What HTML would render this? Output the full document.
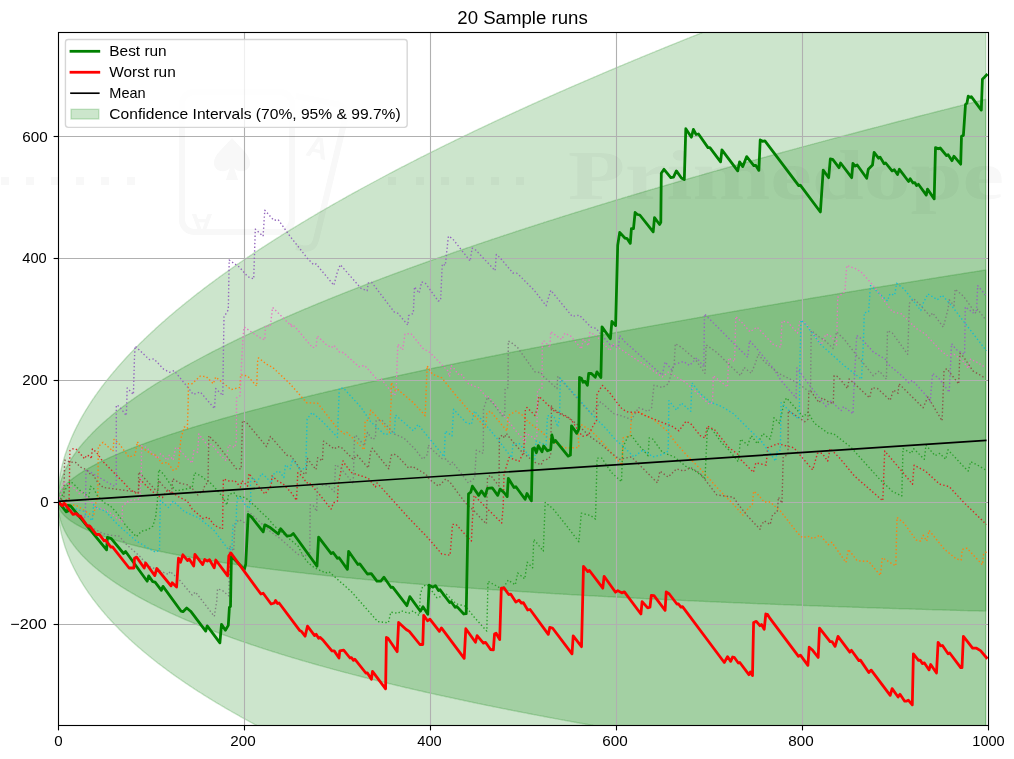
<!DOCTYPE html><html><head><meta charset="utf-8"><title>20 Sample runs</title><style>html,body{margin:0;padding:0;background:#fff}svg{display:block}text{font-family:"Liberation Sans",sans-serif;fill:#000}</style></head><body>
<svg width="1014" height="759" viewBox="0 0 1014 759">
<rect width="1014" height="759" fill="#fff"/>
<defs><clipPath id="ax"><rect x="58.5" y="32.5" width="930.0" height="693.0"/></clipPath></defs>
<g clip-path="url(#ax)">
<path d="M57.6 501.4 L58.5 495.9 L59.5 493.6 L60.4 491.9 L61.3 490.4 L62.2 489.0 L63.2 487.8 L64.1 486.7 L65.0 485.6 L66.0 484.7 L66.9 483.7 L67.8 482.8 L68.8 482.0 L69.7 481.1 L70.6 480.3 L71.5 479.6 L72.5 478.8 L73.4 478.1 L74.3 477.4 L75.3 476.7 L76.2 476.0 L77.1 475.4 L78.1 474.7 L79.0 474.1 L79.9 473.5 L80.8 472.9 L81.8 472.3 L82.7 471.7 L83.6 471.1 L84.6 470.6 L85.5 470.0 L86.4 469.4 L87.4 468.9 L88.3 468.4 L89.2 467.8 L90.2 467.3 L91.1 466.8 L92.0 466.3 L92.9 465.8 L93.9 465.3 L94.8 464.8 L95.7 464.3 L96.7 463.8 L97.6 463.4 L98.5 462.9 L99.5 462.4 L100.4 462.0 L101.3 461.5 L102.2 461.1 L103.2 460.6 L104.1 460.2 L105.0 459.7 L106.0 459.3 L106.9 458.9 L107.8 458.4 L108.8 458.0 L109.7 457.6 L110.6 457.2 L111.5 456.7 L112.5 456.3 L113.4 455.9 L114.3 455.5 L115.3 455.1 L116.2 454.7 L117.1 454.3 L118.1 453.9 L119.0 453.5 L119.9 453.1 L120.8 452.7 L121.8 452.3 L122.7 452.0 L123.6 451.6 L124.6 451.2 L125.5 450.8 L126.4 450.4 L127.3 450.1 L128.3 449.7 L129.2 449.3 L130.1 449.0 L131.1 448.6 L132.0 448.2 L132.9 447.9 L133.9 447.5 L134.8 447.1 L135.7 446.8 L136.7 446.4 L137.6 446.1 L138.5 445.7 L139.4 445.4 L140.4 445.0 L141.3 444.7 L142.2 444.3 L143.2 444.0 L144.1 443.7 L145.0 443.3 L146.0 443.0 L146.9 442.6 L147.8 442.3 L148.7 442.0 L149.7 441.6 L150.6 441.3 L151.5 441.0 L152.5 440.6 L153.4 440.3 L154.3 440.0 L155.2 439.7 L156.2 439.3 L157.1 439.0 L158.0 438.7 L159.0 438.4 L159.9 438.1 L160.8 437.7 L161.8 437.4 L162.7 437.1 L163.6 436.8 L164.6 436.5 L165.5 436.2 L166.4 435.9 L167.3 435.5 L168.3 435.2 L169.2 434.9 L170.1 434.6 L171.1 434.3 L172.0 434.0 L172.9 433.7 L173.8 433.4 L174.8 433.1 L175.7 432.8 L176.6 432.5 L177.6 432.2 L178.5 431.9 L179.4 431.6 L180.4 431.3 L181.3 431.0 L182.2 430.7 L183.2 430.4 L184.1 430.1 L185.0 429.8 L185.9 429.6 L186.9 429.3 L187.8 429.0 L188.7 428.7 L189.7 428.4 L190.6 428.1 L191.5 427.8 L192.4 427.5 L193.4 427.2 L194.3 427.0 L195.2 426.7 L196.2 426.4 L197.1 426.1 L198.0 425.8 L199.0 425.6 L199.9 425.3 L200.8 425.0 L201.8 424.7 L202.7 424.4 L203.6 424.2 L204.5 423.9 L205.5 423.6 L206.4 423.3 L207.3 423.1 L208.3 422.8 L209.2 422.5 L210.1 422.2 L211.1 422.0 L212.0 421.7 L212.9 421.4 L213.8 421.2 L214.8 420.9 L215.7 420.6 L216.6 420.4 L217.6 420.1 L218.5 419.8 L219.4 419.6 L220.3 419.3 L221.3 419.0 L222.2 418.8 L223.1 418.5 L224.1 418.2 L225.0 418.0 L225.9 417.7 L226.9 417.5 L227.8 417.2 L228.7 416.9 L229.7 416.7 L230.6 416.4 L231.5 416.2 L232.4 415.9 L233.4 415.6 L234.3 415.4 L235.2 415.1 L236.2 414.9 L237.1 414.6 L238.0 414.4 L239.0 414.1 L239.9 413.8 L240.8 413.6 L241.7 413.3 L242.7 413.1 L243.6 412.8 L244.5 412.6 L245.5 412.3 L246.4 412.1 L247.3 411.8 L248.2 411.6 L249.2 411.3 L250.1 411.1 L251.0 410.8 L252.0 410.6 L252.9 410.3 L253.8 410.1 L254.8 409.8 L255.7 409.6 L256.6 409.4 L257.6 409.1 L258.5 408.9 L259.4 408.6 L260.3 408.4 L261.3 408.1 L262.2 407.9 L263.1 407.6 L264.1 407.4 L265.0 407.2 L265.9 406.9 L266.9 406.7 L267.8 406.4 L268.7 406.2 L269.6 406.0 L270.6 405.7 L271.5 405.5 L272.4 405.2 L273.4 405.0 L274.3 404.8 L275.2 404.5 L276.2 404.3 L277.1 404.1 L278.0 403.8 L278.9 403.6 L279.9 403.3 L280.8 403.1 L281.7 402.9 L282.7 402.6 L283.6 402.4 L284.5 402.2 L285.5 401.9 L286.4 401.7 L287.3 401.5 L288.2 401.2 L289.2 401.0 L290.1 400.8 L291.0 400.5 L292.0 400.3 L292.9 400.1 L293.8 399.8 L294.8 399.6 L295.7 399.4 L296.6 399.2 L297.5 398.9 L298.5 398.7 L299.4 398.5 L300.3 398.2 L301.3 398.0 L302.2 397.8 L303.1 397.6 L304.1 397.3 L305.0 397.1 L305.9 396.9 L306.8 396.7 L307.8 396.4 L308.7 396.2 L309.6 396.0 L310.6 395.8 L311.5 395.5 L312.4 395.3 L313.4 395.1 L314.3 394.9 L315.2 394.6 L316.1 394.4 L317.1 394.2 L318.0 394.0 L318.9 393.7 L319.9 393.5 L320.8 393.3 L321.7 393.1 L322.7 392.9 L323.6 392.6 L324.5 392.4 L325.4 392.2 L326.4 392.0 L327.3 391.8 L328.2 391.5 L329.2 391.3 L330.1 391.1 L331.0 390.9 L332.0 390.7 L332.9 390.4 L333.8 390.2 L334.7 390.0 L335.7 389.8 L336.6 389.6 L337.5 389.4 L338.5 389.1 L339.4 388.9 L340.3 388.7 L341.3 388.5 L342.2 388.3 L343.1 388.1 L344.0 387.8 L345.0 387.6 L345.9 387.4 L346.8 387.2 L347.8 387.0 L348.7 386.8 L349.6 386.6 L350.6 386.4 L351.5 386.1 L352.4 385.9 L353.3 385.7 L354.3 385.5 L355.2 385.3 L356.1 385.1 L357.1 384.9 L358.0 384.7 L358.9 384.4 L359.9 384.2 L360.8 384.0 L361.7 383.8 L362.6 383.6 L363.6 383.4 L364.5 383.2 L365.4 383.0 L366.4 382.8 L367.3 382.6 L368.2 382.3 L369.2 382.1 L370.1 381.9 L371.0 381.7 L371.9 381.5 L372.9 381.3 L373.8 381.1 L374.7 380.9 L375.7 380.7 L376.6 380.5 L377.5 380.3 L378.5 380.1 L379.4 379.9 L380.3 379.6 L381.2 379.4 L382.2 379.2 L383.1 379.0 L384.0 378.8 L385.0 378.6 L385.9 378.4 L386.8 378.2 L387.8 378.0 L388.7 377.8 L389.6 377.6 L390.5 377.4 L391.5 377.2 L392.4 377.0 L393.3 376.8 L394.3 376.6 L395.2 376.4 L396.1 376.2 L397.1 376.0 L398.0 375.8 L398.9 375.6 L399.8 375.4 L400.8 375.2 L401.7 375.0 L402.6 374.8 L403.6 374.6 L404.5 374.4 L405.4 374.2 L406.4 374.0 L407.3 373.8 L408.2 373.6 L409.1 373.4 L410.1 373.2 L411.0 373.0 L411.9 372.8 L412.9 372.6 L413.8 372.4 L414.7 372.2 L415.7 372.0 L416.6 371.8 L417.5 371.6 L418.4 371.4 L419.4 371.2 L420.3 371.0 L421.2 370.8 L422.2 370.6 L423.1 370.4 L424.0 370.2 L425.0 370.0 L425.9 369.8 L426.8 369.6 L427.7 369.4 L428.7 369.2 L429.6 369.0 L430.5 368.8 L431.5 368.6 L432.4 368.4 L433.3 368.2 L434.3 368.0 L435.2 367.8 L436.1 367.6 L437.0 367.4 L438.0 367.2 L438.9 367.1 L439.8 366.9 L440.8 366.7 L441.7 366.5 L442.6 366.3 L443.6 366.1 L444.5 365.9 L445.4 365.7 L446.3 365.5 L447.3 365.3 L448.2 365.1 L449.1 364.9 L450.1 364.7 L451.0 364.5 L451.9 364.4 L452.9 364.2 L453.8 364.0 L454.7 363.8 L455.6 363.6 L456.6 363.4 L457.5 363.2 L458.4 363.0 L459.4 362.8 L460.3 362.6 L461.2 362.4 L462.2 362.2 L463.1 362.1 L464.0 361.9 L464.9 361.7 L465.9 361.5 L466.8 361.3 L467.7 361.1 L468.7 360.9 L469.6 360.7 L470.5 360.5 L471.5 360.3 L472.4 360.2 L473.3 360.0 L474.2 359.8 L475.2 359.6 L476.1 359.4 L477.0 359.2 L478.0 359.0 L478.9 358.8 L479.8 358.7 L480.8 358.5 L481.7 358.3 L482.6 358.1 L483.5 357.9 L484.5 357.7 L485.4 357.5 L486.3 357.3 L487.3 357.2 L488.2 357.0 L489.1 356.8 L490.1 356.6 L491.0 356.4 L491.9 356.2 L492.8 356.0 L493.8 355.9 L494.7 355.7 L495.6 355.5 L496.6 355.3 L497.5 355.1 L498.4 354.9 L499.4 354.7 L500.3 354.6 L501.2 354.4 L502.1 354.2 L503.1 354.0 L504.0 353.8 L504.9 353.6 L505.9 353.5 L506.8 353.3 L507.7 353.1 L508.7 352.9 L509.6 352.7 L510.5 352.5 L511.4 352.4 L512.4 352.2 L513.3 352.0 L514.2 351.8 L515.2 351.6 L516.1 351.4 L517.0 351.3 L518.0 351.1 L518.9 350.9 L519.8 350.7 L520.7 350.5 L521.7 350.3 L522.6 350.2 L523.5 350.0 L524.5 349.8 L525.4 349.6 L526.3 349.4 L527.2 349.3 L528.2 349.1 L529.1 348.9 L530.0 348.7 L531.0 348.5 L531.9 348.3 L532.8 348.2 L533.8 348.0 L534.7 347.8 L535.6 347.6 L536.6 347.4 L537.5 347.3 L538.4 347.1 L539.3 346.9 L540.3 346.7 L541.2 346.5 L542.1 346.4 L543.1 346.2 L544.0 346.0 L544.9 345.8 L545.9 345.7 L546.8 345.5 L547.7 345.3 L548.6 345.1 L549.6 344.9 L550.5 344.8 L551.4 344.6 L552.4 344.4 L553.3 344.2 L554.2 344.0 L555.1 343.9 L556.1 343.7 L557.0 343.5 L557.9 343.3 L558.9 343.2 L559.8 343.0 L560.7 342.8 L561.7 342.6 L562.6 342.5 L563.5 342.3 L564.5 342.1 L565.4 341.9 L566.3 341.7 L567.2 341.6 L568.2 341.4 L569.1 341.2 L570.0 341.0 L571.0 340.9 L571.9 340.7 L572.8 340.5 L573.8 340.3 L574.7 340.2 L575.6 340.0 L576.5 339.8 L577.5 339.6 L578.4 339.5 L579.3 339.3 L580.3 339.1 L581.2 338.9 L582.1 338.8 L583.1 338.6 L584.0 338.4 L584.9 338.2 L585.8 338.1 L586.8 337.9 L587.7 337.7 L588.6 337.5 L589.6 337.4 L590.5 337.2 L591.4 337.0 L592.4 336.8 L593.3 336.7 L594.2 336.5 L595.1 336.3 L596.1 336.2 L597.0 336.0 L597.9 335.8 L598.9 335.6 L599.8 335.5 L600.7 335.3 L601.7 335.1 L602.6 334.9 L603.5 334.8 L604.4 334.6 L605.4 334.4 L606.3 334.3 L607.2 334.1 L608.2 333.9 L609.1 333.7 L610.0 333.6 L611.0 333.4 L611.9 333.2 L612.8 333.1 L613.7 332.9 L614.7 332.7 L615.6 332.5 L616.5 332.4 L617.5 332.2 L618.4 332.0 L619.3 331.9 L620.2 331.7 L621.2 331.5 L622.1 331.3 L623.0 331.2 L624.0 331.0 L624.9 330.8 L625.8 330.7 L626.8 330.5 L627.7 330.3 L628.6 330.1 L629.6 330.0 L630.5 329.8 L631.4 329.6 L632.3 329.5 L633.3 329.3 L634.2 329.1 L635.1 329.0 L636.1 328.8 L637.0 328.6 L637.9 328.5 L638.9 328.3 L639.8 328.1 L640.7 327.9 L641.6 327.8 L642.6 327.6 L643.5 327.4 L644.4 327.3 L645.4 327.1 L646.3 326.9 L647.2 326.8 L648.2 326.6 L649.1 326.4 L650.0 326.3 L650.9 326.1 L651.9 325.9 L652.8 325.8 L653.7 325.6 L654.7 325.4 L655.6 325.3 L656.5 325.1 L657.5 324.9 L658.4 324.8 L659.3 324.6 L660.2 324.4 L661.2 324.3 L662.1 324.1 L663.0 323.9 L664.0 323.8 L664.9 323.6 L665.8 323.4 L666.8 323.3 L667.7 323.1 L668.6 322.9 L669.5 322.8 L670.5 322.6 L671.4 322.4 L672.3 322.3 L673.3 322.1 L674.2 321.9 L675.1 321.8 L676.1 321.6 L677.0 321.4 L677.9 321.3 L678.8 321.1 L679.8 320.9 L680.7 320.8 L681.6 320.6 L682.6 320.4 L683.5 320.3 L684.4 320.1 L685.4 319.9 L686.3 319.8 L687.2 319.6 L688.1 319.4 L689.1 319.3 L690.0 319.1 L690.9 319.0 L691.9 318.8 L692.8 318.6 L693.7 318.5 L694.7 318.3 L695.6 318.1 L696.5 318.0 L697.4 317.8 L698.4 317.6 L699.3 317.5 L700.2 317.3 L701.2 317.1 L702.1 317.0 L703.0 316.8 L704.0 316.7 L704.9 316.5 L705.8 316.3 L706.7 316.2 L707.7 316.0 L708.6 315.8 L709.5 315.7 L710.5 315.5 L711.4 315.4 L712.3 315.2 L713.3 315.0 L714.2 314.9 L715.1 314.7 L716.0 314.5 L717.0 314.4 L717.9 314.2 L718.8 314.1 L719.8 313.9 L720.7 313.7 L721.6 313.6 L722.6 313.4 L723.5 313.2 L724.4 313.1 L725.3 312.9 L726.3 312.8 L727.2 312.6 L728.1 312.4 L729.1 312.3 L730.0 312.1 L730.9 311.9 L731.9 311.8 L732.8 311.6 L733.7 311.5 L734.6 311.3 L735.6 311.1 L736.5 311.0 L737.4 310.8 L738.4 310.7 L739.3 310.5 L740.2 310.3 L741.2 310.2 L742.1 310.0 L743.0 309.9 L743.9 309.7 L744.9 309.5 L745.8 309.4 L746.7 309.2 L747.7 309.1 L748.6 308.9 L749.5 308.7 L750.5 308.6 L751.4 308.4 L752.3 308.3 L753.2 308.1 L754.2 307.9 L755.1 307.8 L756.0 307.6 L757.0 307.5 L757.9 307.3 L758.8 307.1 L759.8 307.0 L760.7 306.8 L761.6 306.7 L762.5 306.5 L763.5 306.3 L764.4 306.2 L765.3 306.0 L766.3 305.9 L767.2 305.7 L768.1 305.5 L769.1 305.4 L770.0 305.2 L770.9 305.1 L771.8 304.9 L772.8 304.8 L773.7 304.6 L774.6 304.4 L775.6 304.3 L776.5 304.1 L777.4 304.0 L778.4 303.8 L779.3 303.6 L780.2 303.5 L781.1 303.3 L782.1 303.2 L783.0 303.0 L783.9 302.9 L784.9 302.7 L785.8 302.5 L786.7 302.4 L787.7 302.2 L788.6 302.1 L789.5 301.9 L790.4 301.8 L791.4 301.6 L792.3 301.4 L793.2 301.3 L794.2 301.1 L795.1 301.0 L796.0 300.8 L797.0 300.7 L797.9 300.5 L798.8 300.3 L799.7 300.2 L800.7 300.0 L801.6 299.9 L802.5 299.7 L803.5 299.6 L804.4 299.4 L805.3 299.3 L806.3 299.1 L807.2 298.9 L808.1 298.8 L809.0 298.6 L810.0 298.5 L810.9 298.3 L811.8 298.2 L812.8 298.0 L813.7 297.8 L814.6 297.7 L815.6 297.5 L816.5 297.4 L817.4 297.2 L818.3 297.1 L819.3 296.9 L820.2 296.8 L821.1 296.6 L822.1 296.4 L823.0 296.3 L823.9 296.1 L824.9 296.0 L825.8 295.8 L826.7 295.7 L827.6 295.5 L828.6 295.4 L829.5 295.2 L830.4 295.1 L831.4 294.9 L832.3 294.7 L833.2 294.6 L834.2 294.4 L835.1 294.3 L836.0 294.1 L836.9 294.0 L837.9 293.8 L838.8 293.7 L839.7 293.5 L840.7 293.4 L841.6 293.2 L842.5 293.0 L843.5 292.9 L844.4 292.7 L845.3 292.6 L846.2 292.4 L847.2 292.3 L848.1 292.1 L849.0 292.0 L850.0 291.8 L850.9 291.7 L851.8 291.5 L852.8 291.4 L853.7 291.2 L854.6 291.1 L855.5 290.9 L856.5 290.7 L857.4 290.6 L858.3 290.4 L859.3 290.3 L860.2 290.1 L861.1 290.0 L862.1 289.8 L863.0 289.7 L863.9 289.5 L864.8 289.4 L865.8 289.2 L866.7 289.1 L867.6 288.9 L868.6 288.8 L869.5 288.6 L870.4 288.5 L871.4 288.3 L872.3 288.2 L873.2 288.0 L874.1 287.8 L875.1 287.7 L876.0 287.5 L876.9 287.4 L877.9 287.2 L878.8 287.1 L879.7 286.9 L880.7 286.8 L881.6 286.6 L882.5 286.5 L883.4 286.3 L884.4 286.2 L885.3 286.0 L886.2 285.9 L887.2 285.7 L888.1 285.6 L889.0 285.4 L890.0 285.3 L890.9 285.1 L891.8 285.0 L892.7 284.8 L893.7 284.7 L894.6 284.5 L895.5 284.4 L896.5 284.2 L897.4 284.1 L898.3 283.9 L899.3 283.8 L900.2 283.6 L901.1 283.5 L902.0 283.3 L903.0 283.2 L903.9 283.0 L904.8 282.9 L905.8 282.7 L906.7 282.6 L907.6 282.4 L908.6 282.3 L909.5 282.1 L910.4 282.0 L911.3 281.8 L912.3 281.7 L913.2 281.5 L914.1 281.4 L915.1 281.2 L916.0 281.1 L916.9 280.9 L917.9 280.8 L918.8 280.6 L919.7 280.5 L920.6 280.3 L921.6 280.2 L922.5 280.0 L923.4 279.9 L924.4 279.7 L925.3 279.6 L926.2 279.4 L927.2 279.3 L928.1 279.1 L929.0 279.0 L929.9 278.8 L930.9 278.7 L931.8 278.5 L932.7 278.4 L933.7 278.2 L934.6 278.1 L935.5 277.9 L936.5 277.8 L937.4 277.6 L938.3 277.5 L939.2 277.3 L940.2 277.2 L941.1 277.0 L942.0 276.9 L943.0 276.7 L943.9 276.6 L944.8 276.4 L945.8 276.3 L946.7 276.1 L947.6 276.0 L948.5 275.8 L949.5 275.7 L950.4 275.5 L951.3 275.4 L952.3 275.2 L953.2 275.1 L954.1 274.9 L955.1 274.8 L956.0 274.7 L956.9 274.5 L957.8 274.4 L958.8 274.2 L959.7 274.1 L960.6 273.9 L961.6 273.8 L962.5 273.6 L963.4 273.5 L964.4 273.3 L965.3 273.2 L966.2 273.0 L967.1 272.9 L968.1 272.7 L969.0 272.6 L969.9 272.4 L970.9 272.3 L971.8 272.1 L972.7 272.0 L973.7 271.9 L974.6 271.7 L975.5 271.6 L976.4 271.4 L977.4 271.3 L978.3 271.1 L979.2 271.0 L980.2 270.8 L981.1 270.7 L982.0 270.5 L983.0 270.4 L983.9 270.2 L984.8 270.1 L985.7 269.9 L985.7 611.1 L984.8 611.1 L983.9 611.1 L983.0 611.1 L982.0 611.0 L981.1 611.0 L980.2 611.0 L979.2 611.0 L978.3 610.9 L977.4 610.9 L976.4 610.9 L975.5 610.9 L974.6 610.8 L973.7 610.8 L972.7 610.8 L971.8 610.8 L970.9 610.7 L969.9 610.7 L969.0 610.7 L968.1 610.7 L967.1 610.6 L966.2 610.6 L965.3 610.6 L964.4 610.6 L963.4 610.5 L962.5 610.5 L961.6 610.5 L960.6 610.5 L959.7 610.4 L958.8 610.4 L957.8 610.4 L956.9 610.4 L956.0 610.3 L955.1 610.3 L954.1 610.3 L953.2 610.2 L952.3 610.2 L951.3 610.2 L950.4 610.2 L949.5 610.1 L948.5 610.1 L947.6 610.1 L946.7 610.1 L945.8 610.0 L944.8 610.0 L943.9 610.0 L943.0 610.0 L942.0 609.9 L941.1 609.9 L940.2 609.9 L939.2 609.9 L938.3 609.8 L937.4 609.8 L936.5 609.8 L935.5 609.7 L934.6 609.7 L933.7 609.7 L932.7 609.7 L931.8 609.6 L930.9 609.6 L929.9 609.6 L929.0 609.6 L928.1 609.5 L927.2 609.5 L926.2 609.5 L925.3 609.4 L924.4 609.4 L923.4 609.4 L922.5 609.4 L921.6 609.3 L920.6 609.3 L919.7 609.3 L918.8 609.3 L917.9 609.2 L916.9 609.2 L916.0 609.2 L915.1 609.1 L914.1 609.1 L913.2 609.1 L912.3 609.1 L911.3 609.0 L910.4 609.0 L909.5 609.0 L908.6 608.9 L907.6 608.9 L906.7 608.9 L905.8 608.9 L904.8 608.8 L903.9 608.8 L903.0 608.8 L902.0 608.7 L901.1 608.7 L900.2 608.7 L899.3 608.7 L898.3 608.6 L897.4 608.6 L896.5 608.6 L895.5 608.5 L894.6 608.5 L893.7 608.5 L892.7 608.5 L891.8 608.4 L890.9 608.4 L890.0 608.4 L889.0 608.3 L888.1 608.3 L887.2 608.3 L886.2 608.3 L885.3 608.2 L884.4 608.2 L883.4 608.2 L882.5 608.1 L881.6 608.1 L880.7 608.1 L879.7 608.0 L878.8 608.0 L877.9 608.0 L876.9 608.0 L876.0 607.9 L875.1 607.9 L874.1 607.9 L873.2 607.8 L872.3 607.8 L871.4 607.8 L870.4 607.7 L869.5 607.7 L868.6 607.7 L867.6 607.7 L866.7 607.6 L865.8 607.6 L864.8 607.6 L863.9 607.5 L863.0 607.5 L862.1 607.5 L861.1 607.4 L860.2 607.4 L859.3 607.4 L858.3 607.3 L857.4 607.3 L856.5 607.3 L855.5 607.3 L854.6 607.2 L853.7 607.2 L852.8 607.2 L851.8 607.1 L850.9 607.1 L850.0 607.1 L849.0 607.0 L848.1 607.0 L847.2 607.0 L846.2 606.9 L845.3 606.9 L844.4 606.9 L843.5 606.8 L842.5 606.8 L841.6 606.8 L840.7 606.7 L839.7 606.7 L838.8 606.7 L837.9 606.6 L836.9 606.6 L836.0 606.6 L835.1 606.6 L834.2 606.5 L833.2 606.5 L832.3 606.5 L831.4 606.4 L830.4 606.4 L829.5 606.4 L828.6 606.3 L827.6 606.3 L826.7 606.3 L825.8 606.2 L824.9 606.2 L823.9 606.2 L823.0 606.1 L822.1 606.1 L821.1 606.1 L820.2 606.0 L819.3 606.0 L818.3 606.0 L817.4 605.9 L816.5 605.9 L815.6 605.9 L814.6 605.8 L813.7 605.8 L812.8 605.8 L811.8 605.7 L810.9 605.7 L810.0 605.7 L809.0 605.6 L808.1 605.6 L807.2 605.6 L806.3 605.5 L805.3 605.5 L804.4 605.5 L803.5 605.4 L802.5 605.4 L801.6 605.3 L800.7 605.3 L799.7 605.3 L798.8 605.2 L797.9 605.2 L797.0 605.2 L796.0 605.1 L795.1 605.1 L794.2 605.1 L793.2 605.0 L792.3 605.0 L791.4 605.0 L790.4 604.9 L789.5 604.9 L788.6 604.9 L787.7 604.8 L786.7 604.8 L785.8 604.8 L784.9 604.7 L783.9 604.7 L783.0 604.6 L782.1 604.6 L781.1 604.6 L780.2 604.5 L779.3 604.5 L778.4 604.5 L777.4 604.4 L776.5 604.4 L775.6 604.4 L774.6 604.3 L773.7 604.3 L772.8 604.3 L771.8 604.2 L770.9 604.2 L770.0 604.1 L769.1 604.1 L768.1 604.1 L767.2 604.0 L766.3 604.0 L765.3 604.0 L764.4 603.9 L763.5 603.9 L762.5 603.8 L761.6 603.8 L760.7 603.8 L759.8 603.7 L758.8 603.7 L757.9 603.7 L757.0 603.6 L756.0 603.6 L755.1 603.5 L754.2 603.5 L753.2 603.5 L752.3 603.4 L751.4 603.4 L750.5 603.4 L749.5 603.3 L748.6 603.3 L747.7 603.2 L746.7 603.2 L745.8 603.2 L744.9 603.1 L743.9 603.1 L743.0 603.1 L742.1 603.0 L741.2 603.0 L740.2 602.9 L739.3 602.9 L738.4 602.9 L737.4 602.8 L736.5 602.8 L735.6 602.7 L734.6 602.7 L733.7 602.7 L732.8 602.6 L731.9 602.6 L730.9 602.5 L730.0 602.5 L729.1 602.5 L728.1 602.4 L727.2 602.4 L726.3 602.4 L725.3 602.3 L724.4 602.3 L723.5 602.2 L722.6 602.2 L721.6 602.2 L720.7 602.1 L719.8 602.1 L718.8 602.0 L717.9 602.0 L717.0 602.0 L716.0 601.9 L715.1 601.9 L714.2 601.8 L713.3 601.8 L712.3 601.7 L711.4 601.7 L710.5 601.7 L709.5 601.6 L708.6 601.6 L707.7 601.5 L706.7 601.5 L705.8 601.5 L704.9 601.4 L704.0 601.4 L703.0 601.3 L702.1 601.3 L701.2 601.3 L700.2 601.2 L699.3 601.2 L698.4 601.1 L697.4 601.1 L696.5 601.0 L695.6 601.0 L694.7 601.0 L693.7 600.9 L692.8 600.9 L691.9 600.8 L690.9 600.8 L690.0 600.7 L689.1 600.7 L688.1 600.7 L687.2 600.6 L686.3 600.6 L685.4 600.5 L684.4 600.5 L683.5 600.4 L682.6 600.4 L681.6 600.4 L680.7 600.3 L679.8 600.3 L678.8 600.2 L677.9 600.2 L677.0 600.1 L676.1 600.1 L675.1 600.1 L674.2 600.0 L673.3 600.0 L672.3 599.9 L671.4 599.9 L670.5 599.8 L669.5 599.8 L668.6 599.7 L667.7 599.7 L666.8 599.7 L665.8 599.6 L664.9 599.6 L664.0 599.5 L663.0 599.5 L662.1 599.4 L661.2 599.4 L660.2 599.3 L659.3 599.3 L658.4 599.3 L657.5 599.2 L656.5 599.2 L655.6 599.1 L654.7 599.1 L653.7 599.0 L652.8 599.0 L651.9 598.9 L650.9 598.9 L650.0 598.8 L649.1 598.8 L648.2 598.8 L647.2 598.7 L646.3 598.7 L645.4 598.6 L644.4 598.6 L643.5 598.5 L642.6 598.5 L641.6 598.4 L640.7 598.4 L639.8 598.3 L638.9 598.3 L637.9 598.2 L637.0 598.2 L636.1 598.1 L635.1 598.1 L634.2 598.1 L633.3 598.0 L632.3 598.0 L631.4 597.9 L630.5 597.9 L629.6 597.8 L628.6 597.8 L627.7 597.7 L626.8 597.7 L625.8 597.6 L624.9 597.6 L624.0 597.5 L623.0 597.5 L622.1 597.4 L621.2 597.4 L620.2 597.3 L619.3 597.3 L618.4 597.2 L617.5 597.2 L616.5 597.1 L615.6 597.1 L614.7 597.0 L613.7 597.0 L612.8 596.9 L611.9 596.9 L611.0 596.8 L610.0 596.8 L609.1 596.7 L608.2 596.7 L607.2 596.6 L606.3 596.6 L605.4 596.5 L604.4 596.5 L603.5 596.4 L602.6 596.4 L601.7 596.3 L600.7 596.3 L599.8 596.2 L598.9 596.2 L597.9 596.1 L597.0 596.1 L596.1 596.0 L595.1 596.0 L594.2 595.9 L593.3 595.9 L592.4 595.8 L591.4 595.8 L590.5 595.7 L589.6 595.7 L588.6 595.6 L587.7 595.6 L586.8 595.5 L585.8 595.5 L584.9 595.4 L584.0 595.4 L583.1 595.3 L582.1 595.3 L581.2 595.2 L580.3 595.1 L579.3 595.1 L578.4 595.0 L577.5 595.0 L576.5 594.9 L575.6 594.9 L574.7 594.8 L573.8 594.8 L572.8 594.7 L571.9 594.7 L571.0 594.6 L570.0 594.6 L569.1 594.5 L568.2 594.4 L567.2 594.4 L566.3 594.3 L565.4 594.3 L564.5 594.2 L563.5 594.2 L562.6 594.1 L561.7 594.1 L560.7 594.0 L559.8 594.0 L558.9 593.9 L557.9 593.8 L557.0 593.8 L556.1 593.7 L555.1 593.7 L554.2 593.6 L553.3 593.6 L552.4 593.5 L551.4 593.5 L550.5 593.4 L549.6 593.3 L548.6 593.3 L547.7 593.2 L546.8 593.2 L545.9 593.1 L544.9 593.1 L544.0 593.0 L543.1 592.9 L542.1 592.9 L541.2 592.8 L540.3 592.8 L539.3 592.7 L538.4 592.7 L537.5 592.6 L536.6 592.5 L535.6 592.5 L534.7 592.4 L533.8 592.4 L532.8 592.3 L531.9 592.2 L531.0 592.2 L530.0 592.1 L529.1 592.1 L528.2 592.0 L527.2 592.0 L526.3 591.9 L525.4 591.8 L524.5 591.8 L523.5 591.7 L522.6 591.7 L521.7 591.6 L520.7 591.5 L519.8 591.5 L518.9 591.4 L518.0 591.4 L517.0 591.3 L516.1 591.2 L515.2 591.2 L514.2 591.1 L513.3 591.1 L512.4 591.0 L511.4 590.9 L510.5 590.9 L509.6 590.8 L508.7 590.7 L507.7 590.7 L506.8 590.6 L505.9 590.6 L504.9 590.5 L504.0 590.4 L503.1 590.4 L502.1 590.3 L501.2 590.3 L500.3 590.2 L499.4 590.1 L498.4 590.1 L497.5 590.0 L496.6 589.9 L495.6 589.9 L494.7 589.8 L493.8 589.7 L492.8 589.7 L491.9 589.6 L491.0 589.6 L490.1 589.5 L489.1 589.4 L488.2 589.4 L487.3 589.3 L486.3 589.2 L485.4 589.2 L484.5 589.1 L483.5 589.0 L482.6 589.0 L481.7 588.9 L480.8 588.8 L479.8 588.8 L478.9 588.7 L478.0 588.6 L477.0 588.6 L476.1 588.5 L475.2 588.4 L474.2 588.4 L473.3 588.3 L472.4 588.2 L471.5 588.2 L470.5 588.1 L469.6 588.0 L468.7 588.0 L467.7 587.9 L466.8 587.8 L465.9 587.8 L464.9 587.7 L464.0 587.6 L463.1 587.6 L462.2 587.5 L461.2 587.4 L460.3 587.4 L459.4 587.3 L458.4 587.2 L457.5 587.2 L456.6 587.1 L455.6 587.0 L454.7 586.9 L453.8 586.9 L452.9 586.8 L451.9 586.7 L451.0 586.7 L450.1 586.6 L449.1 586.5 L448.2 586.5 L447.3 586.4 L446.3 586.3 L445.4 586.2 L444.5 586.2 L443.6 586.1 L442.6 586.0 L441.7 586.0 L440.8 585.9 L439.8 585.8 L438.9 585.7 L438.0 585.7 L437.0 585.6 L436.1 585.5 L435.2 585.5 L434.3 585.4 L433.3 585.3 L432.4 585.2 L431.5 585.2 L430.5 585.1 L429.6 585.0 L428.7 584.9 L427.7 584.9 L426.8 584.8 L425.9 584.7 L425.0 584.6 L424.0 584.6 L423.1 584.5 L422.2 584.4 L421.2 584.3 L420.3 584.3 L419.4 584.2 L418.4 584.1 L417.5 584.0 L416.6 584.0 L415.7 583.9 L414.7 583.8 L413.8 583.7 L412.9 583.6 L411.9 583.6 L411.0 583.5 L410.1 583.4 L409.1 583.3 L408.2 583.3 L407.3 583.2 L406.4 583.1 L405.4 583.0 L404.5 582.9 L403.6 582.9 L402.6 582.8 L401.7 582.7 L400.8 582.6 L399.8 582.6 L398.9 582.5 L398.0 582.4 L397.1 582.3 L396.1 582.2 L395.2 582.1 L394.3 582.1 L393.3 582.0 L392.4 581.9 L391.5 581.8 L390.5 581.7 L389.6 581.7 L388.7 581.6 L387.8 581.5 L386.8 581.4 L385.9 581.3 L385.0 581.2 L384.0 581.2 L383.1 581.1 L382.2 581.0 L381.2 580.9 L380.3 580.8 L379.4 580.7 L378.5 580.7 L377.5 580.6 L376.6 580.5 L375.7 580.4 L374.7 580.3 L373.8 580.2 L372.9 580.2 L371.9 580.1 L371.0 580.0 L370.1 579.9 L369.2 579.8 L368.2 579.7 L367.3 579.6 L366.4 579.5 L365.4 579.5 L364.5 579.4 L363.6 579.3 L362.6 579.2 L361.7 579.1 L360.8 579.0 L359.9 578.9 L358.9 578.8 L358.0 578.8 L357.1 578.7 L356.1 578.6 L355.2 578.5 L354.3 578.4 L353.3 578.3 L352.4 578.2 L351.5 578.1 L350.6 578.0 L349.6 577.9 L348.7 577.9 L347.8 577.8 L346.8 577.7 L345.9 577.6 L345.0 577.5 L344.0 577.4 L343.1 577.3 L342.2 577.2 L341.3 577.1 L340.3 577.0 L339.4 576.9 L338.5 576.8 L337.5 576.7 L336.6 576.6 L335.7 576.5 L334.7 576.4 L333.8 576.4 L332.9 576.3 L332.0 576.2 L331.0 576.1 L330.1 576.0 L329.2 575.9 L328.2 575.8 L327.3 575.7 L326.4 575.6 L325.4 575.5 L324.5 575.4 L323.6 575.3 L322.7 575.2 L321.7 575.1 L320.8 575.0 L319.9 574.9 L318.9 574.8 L318.0 574.7 L317.1 574.6 L316.1 574.5 L315.2 574.4 L314.3 574.3 L313.4 574.2 L312.4 574.1 L311.5 574.0 L310.6 573.9 L309.6 573.8 L308.7 573.7 L307.8 573.6 L306.8 573.5 L305.9 573.4 L305.0 573.3 L304.1 573.1 L303.1 573.0 L302.2 572.9 L301.3 572.8 L300.3 572.7 L299.4 572.6 L298.5 572.5 L297.5 572.4 L296.6 572.3 L295.7 572.2 L294.8 572.1 L293.8 572.0 L292.9 571.9 L292.0 571.8 L291.0 571.6 L290.1 571.5 L289.2 571.4 L288.2 571.3 L287.3 571.2 L286.4 571.1 L285.5 571.0 L284.5 570.9 L283.6 570.8 L282.7 570.6 L281.7 570.5 L280.8 570.4 L279.9 570.3 L278.9 570.2 L278.0 570.1 L277.1 570.0 L276.2 569.9 L275.2 569.7 L274.3 569.6 L273.4 569.5 L272.4 569.4 L271.5 569.3 L270.6 569.2 L269.6 569.0 L268.7 568.9 L267.8 568.8 L266.9 568.7 L265.9 568.6 L265.0 568.4 L264.1 568.3 L263.1 568.2 L262.2 568.1 L261.3 568.0 L260.3 567.8 L259.4 567.7 L258.5 567.6 L257.6 567.5 L256.6 567.3 L255.7 567.2 L254.8 567.1 L253.8 567.0 L252.9 566.8 L252.0 566.7 L251.0 566.6 L250.1 566.5 L249.2 566.3 L248.2 566.2 L247.3 566.1 L246.4 566.0 L245.5 565.8 L244.5 565.7 L243.6 565.6 L242.7 565.4 L241.7 565.3 L240.8 565.2 L239.9 565.1 L239.0 564.9 L238.0 564.8 L237.1 564.7 L236.2 564.5 L235.2 564.4 L234.3 564.3 L233.4 564.1 L232.4 564.0 L231.5 563.8 L230.6 563.7 L229.7 563.6 L228.7 563.4 L227.8 563.3 L226.9 563.2 L225.9 563.0 L225.0 562.9 L224.1 562.7 L223.1 562.6 L222.2 562.5 L221.3 562.3 L220.3 562.2 L219.4 562.0 L218.5 561.9 L217.6 561.7 L216.6 561.6 L215.7 561.4 L214.8 561.3 L213.8 561.1 L212.9 561.0 L212.0 560.9 L211.1 560.7 L210.1 560.6 L209.2 560.4 L208.3 560.3 L207.3 560.1 L206.4 560.0 L205.5 559.8 L204.5 559.6 L203.6 559.5 L202.7 559.3 L201.8 559.2 L200.8 559.0 L199.9 558.9 L199.0 558.7 L198.0 558.6 L197.1 558.4 L196.2 558.2 L195.2 558.1 L194.3 557.9 L193.4 557.7 L192.4 557.6 L191.5 557.4 L190.6 557.3 L189.7 557.1 L188.7 556.9 L187.8 556.8 L186.9 556.6 L185.9 556.4 L185.0 556.3 L184.1 556.1 L183.2 555.9 L182.2 555.7 L181.3 555.6 L180.4 555.4 L179.4 555.2 L178.5 555.0 L177.6 554.9 L176.6 554.7 L175.7 554.5 L174.8 554.3 L173.8 554.2 L172.9 554.0 L172.0 553.8 L171.1 553.6 L170.1 553.4 L169.2 553.2 L168.3 553.1 L167.3 552.9 L166.4 552.7 L165.5 552.5 L164.6 552.3 L163.6 552.1 L162.7 551.9 L161.8 551.7 L160.8 551.5 L159.9 551.3 L159.0 551.1 L158.0 550.9 L157.1 550.7 L156.2 550.5 L155.2 550.3 L154.3 550.1 L153.4 549.9 L152.5 549.7 L151.5 549.5 L150.6 549.3 L149.7 549.1 L148.7 548.9 L147.8 548.7 L146.9 548.5 L146.0 548.2 L145.0 548.0 L144.1 547.8 L143.2 547.6 L142.2 547.4 L141.3 547.1 L140.4 546.9 L139.4 546.7 L138.5 546.5 L137.6 546.2 L136.7 546.0 L135.7 545.8 L134.8 545.5 L133.9 545.3 L132.9 545.1 L132.0 544.8 L131.1 544.6 L130.1 544.3 L129.2 544.1 L128.3 543.8 L127.3 543.6 L126.4 543.3 L125.5 543.1 L124.6 542.8 L123.6 542.6 L122.7 542.3 L121.8 542.1 L120.8 541.8 L119.9 541.5 L119.0 541.2 L118.1 541.0 L117.1 540.7 L116.2 540.4 L115.3 540.1 L114.3 539.9 L113.4 539.6 L112.5 539.3 L111.5 539.0 L110.6 538.7 L109.7 538.4 L108.8 538.1 L107.8 537.8 L106.9 537.5 L106.0 537.2 L105.0 536.9 L104.1 536.5 L103.2 536.2 L102.2 535.9 L101.3 535.6 L100.4 535.2 L99.5 534.9 L98.5 534.5 L97.6 534.2 L96.7 533.8 L95.7 533.5 L94.8 533.1 L93.9 532.7 L92.9 532.4 L92.0 532.0 L91.1 531.6 L90.2 531.2 L89.2 530.8 L88.3 530.4 L87.4 530.0 L86.4 529.6 L85.5 529.2 L84.6 528.7 L83.6 528.3 L82.7 527.8 L81.8 527.4 L80.8 526.9 L79.9 526.4 L79.0 525.9 L78.1 525.4 L77.1 524.9 L76.2 524.3 L75.3 523.8 L74.3 523.2 L73.4 522.6 L72.5 522.0 L71.5 521.4 L70.6 520.8 L69.7 520.1 L68.8 519.4 L67.8 518.6 L66.9 517.9 L66.0 517.1 L65.0 516.2 L64.1 515.3 L63.2 514.3 L62.2 513.2 L61.3 512.0 L60.4 510.6 L59.5 508.9 L58.5 506.7 L57.6 501.4Z" fill="#007e00" fill-opacity="0.2" stroke="#007e00" stroke-opacity="0.2" stroke-width="1.39" stroke-linejoin="round"/>
<path d="M57.6 501.4 L58.5 490.5 L59.5 486.0 L60.4 482.5 L61.3 479.6 L62.2 476.9 L63.2 474.6 L64.1 472.4 L65.0 470.4 L66.0 468.5 L66.9 466.6 L67.8 464.9 L68.8 463.3 L69.7 461.7 L70.6 460.1 L71.5 458.7 L72.5 457.2 L73.4 455.8 L74.3 454.5 L75.3 453.2 L76.2 451.9 L77.1 450.6 L78.1 449.4 L79.0 448.2 L79.9 447.0 L80.8 445.9 L81.8 444.7 L82.7 443.6 L83.6 442.5 L84.6 441.5 L85.5 440.4 L86.4 439.4 L87.4 438.4 L88.3 437.3 L89.2 436.4 L90.2 435.4 L91.1 434.4 L92.0 433.5 L92.9 432.5 L93.9 431.6 L94.8 430.7 L95.7 429.7 L96.7 428.8 L97.6 428.0 L98.5 427.1 L99.5 426.2 L100.4 425.3 L101.3 424.5 L102.2 423.7 L103.2 422.8 L104.1 422.0 L105.0 421.2 L106.0 420.4 L106.9 419.5 L107.8 418.7 L108.8 418.0 L109.7 417.2 L110.6 416.4 L111.5 415.6 L112.5 414.8 L113.4 414.1 L114.3 413.3 L115.3 412.6 L116.2 411.8 L117.1 411.1 L118.1 410.4 L119.0 409.6 L119.9 408.9 L120.8 408.2 L121.8 407.5 L122.7 406.8 L123.6 406.1 L124.6 405.4 L125.5 404.7 L126.4 404.0 L127.3 403.3 L128.3 402.6 L129.2 401.9 L130.1 401.3 L131.1 400.6 L132.0 399.9 L132.9 399.3 L133.9 398.6 L134.8 397.9 L135.7 397.3 L136.7 396.6 L137.6 396.0 L138.5 395.4 L139.4 394.7 L140.4 394.1 L141.3 393.5 L142.2 392.8 L143.2 392.2 L144.1 391.6 L145.0 391.0 L146.0 390.3 L146.9 389.7 L147.8 389.1 L148.7 388.5 L149.7 387.9 L150.6 387.3 L151.5 386.7 L152.5 386.1 L153.4 385.5 L154.3 384.9 L155.2 384.3 L156.2 383.7 L157.1 383.2 L158.0 382.6 L159.0 382.0 L159.9 381.4 L160.8 380.8 L161.8 380.3 L162.7 379.7 L163.6 379.1 L164.6 378.6 L165.5 378.0 L166.4 377.4 L167.3 376.9 L168.3 376.3 L169.2 375.8 L170.1 375.2 L171.1 374.7 L172.0 374.1 L172.9 373.6 L173.8 373.0 L174.8 372.5 L175.7 371.9 L176.6 371.4 L177.6 370.9 L178.5 370.3 L179.4 369.8 L180.4 369.3 L181.3 368.7 L182.2 368.2 L183.2 367.7 L184.1 367.2 L185.0 366.6 L185.9 366.1 L186.9 365.6 L187.8 365.1 L188.7 364.6 L189.7 364.0 L190.6 363.5 L191.5 363.0 L192.4 362.5 L193.4 362.0 L194.3 361.5 L195.2 361.0 L196.2 360.5 L197.1 360.0 L198.0 359.5 L199.0 359.0 L199.9 358.5 L200.8 358.0 L201.8 357.5 L202.7 357.0 L203.6 356.5 L204.5 356.0 L205.5 355.5 L206.4 355.0 L207.3 354.5 L208.3 354.1 L209.2 353.6 L210.1 353.1 L211.1 352.6 L212.0 352.1 L212.9 351.6 L213.8 351.2 L214.8 350.7 L215.7 350.2 L216.6 349.7 L217.6 349.3 L218.5 348.8 L219.4 348.3 L220.3 347.9 L221.3 347.4 L222.2 346.9 L223.1 346.5 L224.1 346.0 L225.0 345.5 L225.9 345.1 L226.9 344.6 L227.8 344.1 L228.7 343.7 L229.7 343.2 L230.6 342.8 L231.5 342.3 L232.4 341.9 L233.4 341.4 L234.3 340.9 L235.2 340.5 L236.2 340.0 L237.1 339.6 L238.0 339.1 L239.0 338.7 L239.9 338.2 L240.8 337.8 L241.7 337.4 L242.7 336.9 L243.6 336.5 L244.5 336.0 L245.5 335.6 L246.4 335.1 L247.3 334.7 L248.2 334.3 L249.2 333.8 L250.1 333.4 L251.0 333.0 L252.0 332.5 L252.9 332.1 L253.8 331.7 L254.8 331.2 L255.7 330.8 L256.6 330.4 L257.6 329.9 L258.5 329.5 L259.4 329.1 L260.3 328.6 L261.3 328.2 L262.2 327.8 L263.1 327.4 L264.1 326.9 L265.0 326.5 L265.9 326.1 L266.9 325.7 L267.8 325.3 L268.7 324.8 L269.6 324.4 L270.6 324.0 L271.5 323.6 L272.4 323.2 L273.4 322.8 L274.3 322.3 L275.2 321.9 L276.2 321.5 L277.1 321.1 L278.0 320.7 L278.9 320.3 L279.9 319.9 L280.8 319.5 L281.7 319.0 L282.7 318.6 L283.6 318.2 L284.5 317.8 L285.5 317.4 L286.4 317.0 L287.3 316.6 L288.2 316.2 L289.2 315.8 L290.1 315.4 L291.0 315.0 L292.0 314.6 L292.9 314.2 L293.8 313.8 L294.8 313.4 L295.7 313.0 L296.6 312.6 L297.5 312.2 L298.5 311.8 L299.4 311.4 L300.3 311.0 L301.3 310.6 L302.2 310.2 L303.1 309.8 L304.1 309.4 L305.0 309.0 L305.9 308.6 L306.8 308.3 L307.8 307.9 L308.7 307.5 L309.6 307.1 L310.6 306.7 L311.5 306.3 L312.4 305.9 L313.4 305.5 L314.3 305.1 L315.2 304.8 L316.1 304.4 L317.1 304.0 L318.0 303.6 L318.9 303.2 L319.9 302.8 L320.8 302.5 L321.7 302.1 L322.7 301.7 L323.6 301.3 L324.5 300.9 L325.4 300.6 L326.4 300.2 L327.3 299.8 L328.2 299.4 L329.2 299.0 L330.1 298.7 L331.0 298.3 L332.0 297.9 L332.9 297.5 L333.8 297.2 L334.7 296.8 L335.7 296.4 L336.6 296.0 L337.5 295.7 L338.5 295.3 L339.4 294.9 L340.3 294.6 L341.3 294.2 L342.2 293.8 L343.1 293.4 L344.0 293.1 L345.0 292.7 L345.9 292.3 L346.8 292.0 L347.8 291.6 L348.7 291.2 L349.6 290.9 L350.6 290.5 L351.5 290.1 L352.4 289.8 L353.3 289.4 L354.3 289.1 L355.2 288.7 L356.1 288.3 L357.1 288.0 L358.0 287.6 L358.9 287.2 L359.9 286.9 L360.8 286.5 L361.7 286.2 L362.6 285.8 L363.6 285.4 L364.5 285.1 L365.4 284.7 L366.4 284.4 L367.3 284.0 L368.2 283.7 L369.2 283.3 L370.1 282.9 L371.0 282.6 L371.9 282.2 L372.9 281.9 L373.8 281.5 L374.7 281.2 L375.7 280.8 L376.6 280.5 L377.5 280.1 L378.5 279.8 L379.4 279.4 L380.3 279.1 L381.2 278.7 L382.2 278.4 L383.1 278.0 L384.0 277.7 L385.0 277.3 L385.9 277.0 L386.8 276.6 L387.8 276.3 L388.7 275.9 L389.6 275.6 L390.5 275.2 L391.5 274.9 L392.4 274.5 L393.3 274.2 L394.3 273.8 L395.2 273.5 L396.1 273.2 L397.1 272.8 L398.0 272.5 L398.9 272.1 L399.8 271.8 L400.8 271.4 L401.7 271.1 L402.6 270.8 L403.6 270.4 L404.5 270.1 L405.4 269.7 L406.4 269.4 L407.3 269.0 L408.2 268.7 L409.1 268.4 L410.1 268.0 L411.0 267.7 L411.9 267.4 L412.9 267.0 L413.8 266.7 L414.7 266.3 L415.7 266.0 L416.6 265.7 L417.5 265.3 L418.4 265.0 L419.4 264.7 L420.3 264.3 L421.2 264.0 L422.2 263.7 L423.1 263.3 L424.0 263.0 L425.0 262.7 L425.9 262.3 L426.8 262.0 L427.7 261.7 L428.7 261.3 L429.6 261.0 L430.5 260.7 L431.5 260.3 L432.4 260.0 L433.3 259.7 L434.3 259.4 L435.2 259.0 L436.1 258.7 L437.0 258.4 L438.0 258.0 L438.9 257.7 L439.8 257.4 L440.8 257.1 L441.7 256.7 L442.6 256.4 L443.6 256.1 L444.5 255.8 L445.4 255.4 L446.3 255.1 L447.3 254.8 L448.2 254.5 L449.1 254.1 L450.1 253.8 L451.0 253.5 L451.9 253.2 L452.9 252.8 L453.8 252.5 L454.7 252.2 L455.6 251.9 L456.6 251.5 L457.5 251.2 L458.4 250.9 L459.4 250.6 L460.3 250.3 L461.2 249.9 L462.2 249.6 L463.1 249.3 L464.0 249.0 L464.9 248.7 L465.9 248.3 L466.8 248.0 L467.7 247.7 L468.7 247.4 L469.6 247.1 L470.5 246.8 L471.5 246.4 L472.4 246.1 L473.3 245.8 L474.2 245.5 L475.2 245.2 L476.1 244.9 L477.0 244.5 L478.0 244.2 L478.9 243.9 L479.8 243.6 L480.8 243.3 L481.7 243.0 L482.6 242.7 L483.5 242.3 L484.5 242.0 L485.4 241.7 L486.3 241.4 L487.3 241.1 L488.2 240.8 L489.1 240.5 L490.1 240.2 L491.0 239.8 L491.9 239.5 L492.8 239.2 L493.8 238.9 L494.7 238.6 L495.6 238.3 L496.6 238.0 L497.5 237.7 L498.4 237.4 L499.4 237.1 L500.3 236.7 L501.2 236.4 L502.1 236.1 L503.1 235.8 L504.0 235.5 L504.9 235.2 L505.9 234.9 L506.8 234.6 L507.7 234.3 L508.7 234.0 L509.6 233.7 L510.5 233.4 L511.4 233.1 L512.4 232.8 L513.3 232.4 L514.2 232.1 L515.2 231.8 L516.1 231.5 L517.0 231.2 L518.0 230.9 L518.9 230.6 L519.8 230.3 L520.7 230.0 L521.7 229.7 L522.6 229.4 L523.5 229.1 L524.5 228.8 L525.4 228.5 L526.3 228.2 L527.2 227.9 L528.2 227.6 L529.1 227.3 L530.0 227.0 L531.0 226.7 L531.9 226.4 L532.8 226.1 L533.8 225.8 L534.7 225.5 L535.6 225.2 L536.6 224.9 L537.5 224.6 L538.4 224.3 L539.3 224.0 L540.3 223.7 L541.2 223.4 L542.1 223.1 L543.1 222.8 L544.0 222.5 L544.9 222.2 L545.9 221.9 L546.8 221.6 L547.7 221.3 L548.6 221.0 L549.6 220.7 L550.5 220.4 L551.4 220.1 L552.4 219.9 L553.3 219.6 L554.2 219.3 L555.1 219.0 L556.1 218.7 L557.0 218.4 L557.9 218.1 L558.9 217.8 L559.8 217.5 L560.7 217.2 L561.7 216.9 L562.6 216.6 L563.5 216.3 L564.5 216.0 L565.4 215.7 L566.3 215.4 L567.2 215.2 L568.2 214.9 L569.1 214.6 L570.0 214.3 L571.0 214.0 L571.9 213.7 L572.8 213.4 L573.8 213.1 L574.7 212.8 L575.6 212.5 L576.5 212.3 L577.5 212.0 L578.4 211.7 L579.3 211.4 L580.3 211.1 L581.2 210.8 L582.1 210.5 L583.1 210.2 L584.0 209.9 L584.9 209.7 L585.8 209.4 L586.8 209.1 L587.7 208.8 L588.6 208.5 L589.6 208.2 L590.5 207.9 L591.4 207.6 L592.4 207.4 L593.3 207.1 L594.2 206.8 L595.1 206.5 L596.1 206.2 L597.0 205.9 L597.9 205.6 L598.9 205.4 L599.8 205.1 L600.7 204.8 L601.7 204.5 L602.6 204.2 L603.5 203.9 L604.4 203.7 L605.4 203.4 L606.3 203.1 L607.2 202.8 L608.2 202.5 L609.1 202.2 L610.0 202.0 L611.0 201.7 L611.9 201.4 L612.8 201.1 L613.7 200.8 L614.7 200.5 L615.6 200.3 L616.5 200.0 L617.5 199.7 L618.4 199.4 L619.3 199.1 L620.2 198.9 L621.2 198.6 L622.1 198.3 L623.0 198.0 L624.0 197.7 L624.9 197.5 L625.8 197.2 L626.8 196.9 L627.7 196.6 L628.6 196.3 L629.6 196.1 L630.5 195.8 L631.4 195.5 L632.3 195.2 L633.3 194.9 L634.2 194.7 L635.1 194.4 L636.1 194.1 L637.0 193.8 L637.9 193.6 L638.9 193.3 L639.8 193.0 L640.7 192.7 L641.6 192.5 L642.6 192.2 L643.5 191.9 L644.4 191.6 L645.4 191.3 L646.3 191.1 L647.2 190.8 L648.2 190.5 L649.1 190.2 L650.0 190.0 L650.9 189.7 L651.9 189.4 L652.8 189.1 L653.7 188.9 L654.7 188.6 L655.6 188.3 L656.5 188.1 L657.5 187.8 L658.4 187.5 L659.3 187.2 L660.2 187.0 L661.2 186.7 L662.1 186.4 L663.0 186.1 L664.0 185.9 L664.9 185.6 L665.8 185.3 L666.8 185.0 L667.7 184.8 L668.6 184.5 L669.5 184.2 L670.5 184.0 L671.4 183.7 L672.3 183.4 L673.3 183.1 L674.2 182.9 L675.1 182.6 L676.1 182.3 L677.0 182.1 L677.9 181.8 L678.8 181.5 L679.8 181.3 L680.7 181.0 L681.6 180.7 L682.6 180.4 L683.5 180.2 L684.4 179.9 L685.4 179.6 L686.3 179.4 L687.2 179.1 L688.1 178.8 L689.1 178.6 L690.0 178.3 L690.9 178.0 L691.9 177.8 L692.8 177.5 L693.7 177.2 L694.7 177.0 L695.6 176.7 L696.5 176.4 L697.4 176.2 L698.4 175.9 L699.3 175.6 L700.2 175.4 L701.2 175.1 L702.1 174.8 L703.0 174.6 L704.0 174.3 L704.9 174.0 L705.8 173.8 L706.7 173.5 L707.7 173.2 L708.6 173.0 L709.5 172.7 L710.5 172.4 L711.4 172.2 L712.3 171.9 L713.3 171.6 L714.2 171.4 L715.1 171.1 L716.0 170.9 L717.0 170.6 L717.9 170.3 L718.8 170.1 L719.8 169.8 L720.7 169.5 L721.6 169.3 L722.6 169.0 L723.5 168.7 L724.4 168.5 L725.3 168.2 L726.3 168.0 L727.2 167.7 L728.1 167.4 L729.1 167.2 L730.0 166.9 L730.9 166.6 L731.9 166.4 L732.8 166.1 L733.7 165.9 L734.6 165.6 L735.6 165.3 L736.5 165.1 L737.4 164.8 L738.4 164.6 L739.3 164.3 L740.2 164.0 L741.2 163.8 L742.1 163.5 L743.0 163.3 L743.9 163.0 L744.9 162.7 L745.8 162.5 L746.7 162.2 L747.7 162.0 L748.6 161.7 L749.5 161.4 L750.5 161.2 L751.4 160.9 L752.3 160.7 L753.2 160.4 L754.2 160.1 L755.1 159.9 L756.0 159.6 L757.0 159.4 L757.9 159.1 L758.8 158.9 L759.8 158.6 L760.7 158.3 L761.6 158.1 L762.5 157.8 L763.5 157.6 L764.4 157.3 L765.3 157.1 L766.3 156.8 L767.2 156.5 L768.1 156.3 L769.1 156.0 L770.0 155.8 L770.9 155.5 L771.8 155.3 L772.8 155.0 L773.7 154.8 L774.6 154.5 L775.6 154.2 L776.5 154.0 L777.4 153.7 L778.4 153.5 L779.3 153.2 L780.2 153.0 L781.1 152.7 L782.1 152.5 L783.0 152.2 L783.9 151.9 L784.9 151.7 L785.8 151.4 L786.7 151.2 L787.7 150.9 L788.6 150.7 L789.5 150.4 L790.4 150.2 L791.4 149.9 L792.3 149.7 L793.2 149.4 L794.2 149.2 L795.1 148.9 L796.0 148.7 L797.0 148.4 L797.9 148.1 L798.8 147.9 L799.7 147.6 L800.7 147.4 L801.6 147.1 L802.5 146.9 L803.5 146.6 L804.4 146.4 L805.3 146.1 L806.3 145.9 L807.2 145.6 L808.1 145.4 L809.0 145.1 L810.0 144.9 L810.9 144.6 L811.8 144.4 L812.8 144.1 L813.7 143.9 L814.6 143.6 L815.6 143.4 L816.5 143.1 L817.4 142.9 L818.3 142.6 L819.3 142.4 L820.2 142.1 L821.1 141.9 L822.1 141.6 L823.0 141.4 L823.9 141.1 L824.9 140.9 L825.8 140.6 L826.7 140.4 L827.6 140.1 L828.6 139.9 L829.5 139.6 L830.4 139.4 L831.4 139.1 L832.3 138.9 L833.2 138.6 L834.2 138.4 L835.1 138.1 L836.0 137.9 L836.9 137.7 L837.9 137.4 L838.8 137.2 L839.7 136.9 L840.7 136.7 L841.6 136.4 L842.5 136.2 L843.5 135.9 L844.4 135.7 L845.3 135.4 L846.2 135.2 L847.2 134.9 L848.1 134.7 L849.0 134.4 L850.0 134.2 L850.9 134.0 L851.8 133.7 L852.8 133.5 L853.7 133.2 L854.6 133.0 L855.5 132.7 L856.5 132.5 L857.4 132.2 L858.3 132.0 L859.3 131.7 L860.2 131.5 L861.1 131.3 L862.1 131.0 L863.0 130.8 L863.9 130.5 L864.8 130.3 L865.8 130.0 L866.7 129.8 L867.6 129.5 L868.6 129.3 L869.5 129.1 L870.4 128.8 L871.4 128.6 L872.3 128.3 L873.2 128.1 L874.1 127.8 L875.1 127.6 L876.0 127.4 L876.9 127.1 L877.9 126.9 L878.8 126.6 L879.7 126.4 L880.7 126.1 L881.6 125.9 L882.5 125.7 L883.4 125.4 L884.4 125.2 L885.3 124.9 L886.2 124.7 L887.2 124.4 L888.1 124.2 L889.0 124.0 L890.0 123.7 L890.9 123.5 L891.8 123.2 L892.7 123.0 L893.7 122.8 L894.6 122.5 L895.5 122.3 L896.5 122.0 L897.4 121.8 L898.3 121.5 L899.3 121.3 L900.2 121.1 L901.1 120.8 L902.0 120.6 L903.0 120.3 L903.9 120.1 L904.8 119.9 L905.8 119.6 L906.7 119.4 L907.6 119.1 L908.6 118.9 L909.5 118.7 L910.4 118.4 L911.3 118.2 L912.3 118.0 L913.2 117.7 L914.1 117.5 L915.1 117.2 L916.0 117.0 L916.9 116.8 L917.9 116.5 L918.8 116.3 L919.7 116.0 L920.6 115.8 L921.6 115.6 L922.5 115.3 L923.4 115.1 L924.4 114.8 L925.3 114.6 L926.2 114.4 L927.2 114.1 L928.1 113.9 L929.0 113.7 L929.9 113.4 L930.9 113.2 L931.8 112.9 L932.7 112.7 L933.7 112.5 L934.6 112.2 L935.5 112.0 L936.5 111.8 L937.4 111.5 L938.3 111.3 L939.2 111.1 L940.2 110.8 L941.1 110.6 L942.0 110.3 L943.0 110.1 L943.9 109.9 L944.8 109.6 L945.8 109.4 L946.7 109.2 L947.6 108.9 L948.5 108.7 L949.5 108.5 L950.4 108.2 L951.3 108.0 L952.3 107.8 L953.2 107.5 L954.1 107.3 L955.1 107.1 L956.0 106.8 L956.9 106.6 L957.8 106.3 L958.8 106.1 L959.7 105.9 L960.6 105.6 L961.6 105.4 L962.5 105.2 L963.4 104.9 L964.4 104.7 L965.3 104.5 L966.2 104.2 L967.1 104.0 L968.1 103.8 L969.0 103.5 L969.9 103.3 L970.9 103.1 L971.8 102.8 L972.7 102.6 L973.7 102.4 L974.6 102.1 L975.5 101.9 L976.4 101.7 L977.4 101.4 L978.3 101.2 L979.2 101.0 L980.2 100.7 L981.1 100.5 L982.0 100.3 L983.0 100.0 L983.9 99.8 L984.8 99.6 L985.7 99.3 L985.7 781.7 L984.8 781.6 L983.9 781.5 L983.0 781.4 L982.0 781.3 L981.1 781.2 L980.2 781.1 L979.2 781.0 L978.3 780.8 L977.4 780.7 L976.4 780.6 L975.5 780.5 L974.6 780.4 L973.7 780.3 L972.7 780.2 L971.8 780.1 L970.9 780.0 L969.9 779.8 L969.0 779.7 L968.1 779.6 L967.1 779.5 L966.2 779.4 L965.3 779.3 L964.4 779.2 L963.4 779.1 L962.5 778.9 L961.6 778.8 L960.6 778.7 L959.7 778.6 L958.8 778.5 L957.8 778.4 L956.9 778.3 L956.0 778.2 L955.1 778.0 L954.1 777.9 L953.2 777.8 L952.3 777.7 L951.3 777.6 L950.4 777.5 L949.5 777.4 L948.5 777.3 L947.6 777.1 L946.7 777.0 L945.8 776.9 L944.8 776.8 L943.9 776.7 L943.0 776.6 L942.0 776.5 L941.1 776.3 L940.2 776.2 L939.2 776.1 L938.3 776.0 L937.4 775.9 L936.5 775.8 L935.5 775.7 L934.6 775.5 L933.7 775.4 L932.7 775.3 L931.8 775.2 L930.9 775.1 L929.9 775.0 L929.0 774.9 L928.1 774.7 L927.2 774.6 L926.2 774.5 L925.3 774.4 L924.4 774.3 L923.4 774.2 L922.5 774.0 L921.6 773.9 L920.6 773.8 L919.7 773.7 L918.8 773.6 L917.9 773.5 L916.9 773.3 L916.0 773.2 L915.1 773.1 L914.1 773.0 L913.2 772.9 L912.3 772.8 L911.3 772.6 L910.4 772.5 L909.5 772.4 L908.6 772.3 L907.6 772.2 L906.7 772.1 L905.8 771.9 L904.8 771.8 L903.9 771.7 L903.0 771.6 L902.0 771.5 L901.1 771.3 L900.2 771.2 L899.3 771.1 L898.3 771.0 L897.4 770.9 L896.5 770.8 L895.5 770.6 L894.6 770.5 L893.7 770.4 L892.7 770.3 L891.8 770.2 L890.9 770.0 L890.0 769.9 L889.0 769.8 L888.1 769.7 L887.2 769.6 L886.2 769.4 L885.3 769.3 L884.4 769.2 L883.4 769.1 L882.5 769.0 L881.6 768.8 L880.7 768.7 L879.7 768.6 L878.8 768.5 L877.9 768.4 L876.9 768.2 L876.0 768.1 L875.1 768.0 L874.1 767.9 L873.2 767.8 L872.3 767.6 L871.4 767.5 L870.4 767.4 L869.5 767.3 L868.6 767.1 L867.6 767.0 L866.7 766.9 L865.8 766.8 L864.8 766.7 L863.9 766.5 L863.0 766.4 L862.1 766.3 L861.1 766.2 L860.2 766.0 L859.3 765.9 L858.3 765.8 L857.4 765.7 L856.5 765.6 L855.5 765.4 L854.6 765.3 L853.7 765.2 L852.8 765.1 L851.8 764.9 L850.9 764.8 L850.0 764.7 L849.0 764.6 L848.1 764.4 L847.2 764.3 L846.2 764.2 L845.3 764.1 L844.4 763.9 L843.5 763.8 L842.5 763.7 L841.6 763.6 L840.7 763.4 L839.7 763.3 L838.8 763.2 L837.9 763.1 L836.9 762.9 L836.0 762.8 L835.1 762.7 L834.2 762.6 L833.2 762.4 L832.3 762.3 L831.4 762.2 L830.4 762.1 L829.5 761.9 L828.6 761.8 L827.6 761.7 L826.7 761.6 L825.8 761.4 L824.9 761.3 L823.9 761.2 L823.0 761.0 L822.1 760.9 L821.1 760.8 L820.2 760.7 L819.3 760.5 L818.3 760.4 L817.4 760.3 L816.5 760.2 L815.6 760.0 L814.6 759.9 L813.7 759.8 L812.8 759.6 L811.8 759.5 L810.9 759.4 L810.0 759.3 L809.0 759.1 L808.1 759.0 L807.2 758.9 L806.3 758.7 L805.3 758.6 L804.4 758.5 L803.5 758.3 L802.5 758.2 L801.6 758.1 L800.7 758.0 L799.7 757.8 L798.8 757.7 L797.9 757.6 L797.0 757.4 L796.0 757.3 L795.1 757.2 L794.2 757.0 L793.2 756.9 L792.3 756.8 L791.4 756.6 L790.4 756.5 L789.5 756.4 L788.6 756.3 L787.7 756.1 L786.7 756.0 L785.8 755.9 L784.9 755.7 L783.9 755.6 L783.0 755.5 L782.1 755.3 L781.1 755.2 L780.2 755.1 L779.3 754.9 L778.4 754.8 L777.4 754.7 L776.5 754.5 L775.6 754.4 L774.6 754.3 L773.7 754.1 L772.8 754.0 L771.8 753.9 L770.9 753.7 L770.0 753.6 L769.1 753.5 L768.1 753.3 L767.2 753.2 L766.3 753.1 L765.3 752.9 L764.4 752.8 L763.5 752.7 L762.5 752.5 L761.6 752.4 L760.7 752.3 L759.8 752.1 L758.8 752.0 L757.9 751.8 L757.0 751.7 L756.0 751.6 L755.1 751.4 L754.2 751.3 L753.2 751.2 L752.3 751.0 L751.4 750.9 L750.5 750.8 L749.5 750.6 L748.6 750.5 L747.7 750.3 L746.7 750.2 L745.8 750.1 L744.9 749.9 L743.9 749.8 L743.0 749.7 L742.1 749.5 L741.2 749.4 L740.2 749.2 L739.3 749.1 L738.4 749.0 L737.4 748.8 L736.5 748.7 L735.6 748.5 L734.6 748.4 L733.7 748.3 L732.8 748.1 L731.9 748.0 L730.9 747.8 L730.0 747.7 L729.1 747.6 L728.1 747.4 L727.2 747.3 L726.3 747.1 L725.3 747.0 L724.4 746.9 L723.5 746.7 L722.6 746.6 L721.6 746.4 L720.7 746.3 L719.8 746.2 L718.8 746.0 L717.9 745.9 L717.0 745.7 L716.0 745.6 L715.1 745.5 L714.2 745.3 L713.3 745.2 L712.3 745.0 L711.4 744.9 L710.5 744.7 L709.5 744.6 L708.6 744.5 L707.7 744.3 L706.7 744.2 L705.8 744.0 L704.9 743.9 L704.0 743.7 L703.0 743.6 L702.1 743.5 L701.2 743.3 L700.2 743.2 L699.3 743.0 L698.4 742.9 L697.4 742.7 L696.5 742.6 L695.6 742.4 L694.7 742.3 L693.7 742.1 L692.8 742.0 L691.9 741.9 L690.9 741.7 L690.0 741.6 L689.1 741.4 L688.1 741.3 L687.2 741.1 L686.3 741.0 L685.4 740.8 L684.4 740.7 L683.5 740.5 L682.6 740.4 L681.6 740.2 L680.7 740.1 L679.8 739.9 L678.8 739.8 L677.9 739.7 L677.0 739.5 L676.1 739.4 L675.1 739.2 L674.2 739.1 L673.3 738.9 L672.3 738.8 L671.4 738.6 L670.5 738.5 L669.5 738.3 L668.6 738.2 L667.7 738.0 L666.8 737.9 L665.8 737.7 L664.9 737.6 L664.0 737.4 L663.0 737.3 L662.1 737.1 L661.2 737.0 L660.2 736.8 L659.3 736.7 L658.4 736.5 L657.5 736.4 L656.5 736.2 L655.6 736.1 L654.7 735.9 L653.7 735.7 L652.8 735.6 L651.9 735.4 L650.9 735.3 L650.0 735.1 L649.1 735.0 L648.2 734.8 L647.2 734.7 L646.3 734.5 L645.4 734.4 L644.4 734.2 L643.5 734.1 L642.6 733.9 L641.6 733.8 L640.7 733.6 L639.8 733.4 L638.9 733.3 L637.9 733.1 L637.0 733.0 L636.1 732.8 L635.1 732.7 L634.2 732.5 L633.3 732.4 L632.3 732.2 L631.4 732.0 L630.5 731.9 L629.6 731.7 L628.6 731.6 L627.7 731.4 L626.8 731.3 L625.8 731.1 L624.9 730.9 L624.0 730.8 L623.0 730.6 L622.1 730.5 L621.2 730.3 L620.2 730.2 L619.3 730.0 L618.4 729.8 L617.5 729.7 L616.5 729.5 L615.6 729.4 L614.7 729.2 L613.7 729.0 L612.8 728.9 L611.9 728.7 L611.0 728.6 L610.0 728.4 L609.1 728.2 L608.2 728.1 L607.2 727.9 L606.3 727.8 L605.4 727.6 L604.4 727.4 L603.5 727.3 L602.6 727.1 L601.7 726.9 L600.7 726.8 L599.8 726.6 L598.9 726.5 L597.9 726.3 L597.0 726.1 L596.1 726.0 L595.1 725.8 L594.2 725.6 L593.3 725.5 L592.4 725.3 L591.4 725.1 L590.5 725.0 L589.6 724.8 L588.6 724.7 L587.7 724.5 L586.8 724.3 L585.8 724.2 L584.9 724.0 L584.0 723.8 L583.1 723.7 L582.1 723.5 L581.2 723.3 L580.3 723.2 L579.3 723.0 L578.4 722.8 L577.5 722.7 L576.5 722.5 L575.6 722.3 L574.7 722.2 L573.8 722.0 L572.8 721.8 L571.9 721.7 L571.0 721.5 L570.0 721.3 L569.1 721.1 L568.2 721.0 L567.2 720.8 L566.3 720.6 L565.4 720.5 L564.5 720.3 L563.5 720.1 L562.6 720.0 L561.7 719.8 L560.7 719.6 L559.8 719.4 L558.9 719.3 L557.9 719.1 L557.0 718.9 L556.1 718.8 L555.1 718.6 L554.2 718.4 L553.3 718.2 L552.4 718.1 L551.4 717.9 L550.5 717.7 L549.6 717.5 L548.6 717.4 L547.7 717.2 L546.8 717.0 L545.9 716.8 L544.9 716.7 L544.0 716.5 L543.1 716.3 L542.1 716.1 L541.2 716.0 L540.3 715.8 L539.3 715.6 L538.4 715.4 L537.5 715.3 L536.6 715.1 L535.6 714.9 L534.7 714.7 L533.8 714.6 L532.8 714.4 L531.9 714.2 L531.0 714.0 L530.0 713.8 L529.1 713.7 L528.2 713.5 L527.2 713.3 L526.3 713.1 L525.4 712.9 L524.5 712.8 L523.5 712.6 L522.6 712.4 L521.7 712.2 L520.7 712.0 L519.8 711.9 L518.9 711.7 L518.0 711.5 L517.0 711.3 L516.1 711.1 L515.2 711.0 L514.2 710.8 L513.3 710.6 L512.4 710.4 L511.4 710.2 L510.5 710.0 L509.6 709.9 L508.7 709.7 L507.7 709.5 L506.8 709.3 L505.9 709.1 L504.9 708.9 L504.0 708.7 L503.1 708.6 L502.1 708.4 L501.2 708.2 L500.3 708.0 L499.4 707.8 L498.4 707.6 L497.5 707.4 L496.6 707.3 L495.6 707.1 L494.7 706.9 L493.8 706.7 L492.8 706.5 L491.9 706.3 L491.0 706.1 L490.1 705.9 L489.1 705.7 L488.2 705.6 L487.3 705.4 L486.3 705.2 L485.4 705.0 L484.5 704.8 L483.5 704.6 L482.6 704.4 L481.7 704.2 L480.8 704.0 L479.8 703.8 L478.9 703.6 L478.0 703.5 L477.0 703.3 L476.1 703.1 L475.2 702.9 L474.2 702.7 L473.3 702.5 L472.4 702.3 L471.5 702.1 L470.5 701.9 L469.6 701.7 L468.7 701.5 L467.7 701.3 L466.8 701.1 L465.9 700.9 L464.9 700.7 L464.0 700.5 L463.1 700.3 L462.2 700.1 L461.2 699.9 L460.3 699.7 L459.4 699.5 L458.4 699.3 L457.5 699.1 L456.6 698.9 L455.6 698.7 L454.7 698.5 L453.8 698.3 L452.9 698.1 L451.9 697.9 L451.0 697.7 L450.1 697.5 L449.1 697.3 L448.2 697.1 L447.3 696.9 L446.3 696.7 L445.4 696.5 L444.5 696.3 L443.6 696.1 L442.6 695.9 L441.7 695.7 L440.8 695.5 L439.8 695.3 L438.9 695.1 L438.0 694.9 L437.0 694.7 L436.1 694.5 L435.2 694.3 L434.3 694.1 L433.3 693.8 L432.4 693.6 L431.5 693.4 L430.5 693.2 L429.6 693.0 L428.7 692.8 L427.7 692.6 L426.8 692.4 L425.9 692.2 L425.0 692.0 L424.0 691.8 L423.1 691.5 L422.2 691.3 L421.2 691.1 L420.3 690.9 L419.4 690.7 L418.4 690.5 L417.5 690.3 L416.6 690.1 L415.7 689.8 L414.7 689.6 L413.8 689.4 L412.9 689.2 L411.9 689.0 L411.0 688.8 L410.1 688.5 L409.1 688.3 L408.2 688.1 L407.3 687.9 L406.4 687.7 L405.4 687.5 L404.5 687.2 L403.6 687.0 L402.6 686.8 L401.7 686.6 L400.8 686.4 L399.8 686.1 L398.9 685.9 L398.0 685.7 L397.1 685.5 L396.1 685.3 L395.2 685.0 L394.3 684.8 L393.3 684.6 L392.4 684.4 L391.5 684.1 L390.5 683.9 L389.6 683.7 L388.7 683.5 L387.8 683.2 L386.8 683.0 L385.9 682.8 L385.0 682.6 L384.0 682.3 L383.1 682.1 L382.2 681.9 L381.2 681.7 L380.3 681.4 L379.4 681.2 L378.5 681.0 L377.5 680.7 L376.6 680.5 L375.7 680.3 L374.7 680.0 L373.8 679.8 L372.9 679.6 L371.9 679.3 L371.0 679.1 L370.1 678.9 L369.2 678.6 L368.2 678.4 L367.3 678.2 L366.4 677.9 L365.4 677.7 L364.5 677.5 L363.6 677.2 L362.6 677.0 L361.7 676.8 L360.8 676.5 L359.9 676.3 L358.9 676.0 L358.0 675.8 L357.1 675.6 L356.1 675.3 L355.2 675.1 L354.3 674.8 L353.3 674.6 L352.4 674.4 L351.5 674.1 L350.6 673.9 L349.6 673.6 L348.7 673.4 L347.8 673.1 L346.8 672.9 L345.9 672.7 L345.0 672.4 L344.0 672.2 L343.1 671.9 L342.2 671.7 L341.3 671.4 L340.3 671.2 L339.4 670.9 L338.5 670.7 L337.5 670.4 L336.6 670.2 L335.7 669.9 L334.7 669.7 L333.8 669.4 L332.9 669.2 L332.0 668.9 L331.0 668.7 L330.1 668.4 L329.2 668.1 L328.2 667.9 L327.3 667.6 L326.4 667.4 L325.4 667.1 L324.5 666.9 L323.6 666.6 L322.7 666.3 L321.7 666.1 L320.8 665.8 L319.9 665.6 L318.9 665.3 L318.0 665.0 L317.1 664.8 L316.1 664.5 L315.2 664.3 L314.3 664.0 L313.4 663.7 L312.4 663.5 L311.5 663.2 L310.6 662.9 L309.6 662.7 L308.7 662.4 L307.8 662.1 L306.8 661.9 L305.9 661.6 L305.0 661.3 L304.1 661.1 L303.1 660.8 L302.2 660.5 L301.3 660.2 L300.3 660.0 L299.4 659.7 L298.5 659.4 L297.5 659.1 L296.6 658.9 L295.7 658.6 L294.8 658.3 L293.8 658.0 L292.9 657.8 L292.0 657.5 L291.0 657.2 L290.1 656.9 L289.2 656.6 L288.2 656.4 L287.3 656.1 L286.4 655.8 L285.5 655.5 L284.5 655.2 L283.6 654.9 L282.7 654.7 L281.7 654.4 L280.8 654.1 L279.9 653.8 L278.9 653.5 L278.0 653.2 L277.1 652.9 L276.2 652.6 L275.2 652.3 L274.3 652.0 L273.4 651.8 L272.4 651.5 L271.5 651.2 L270.6 650.9 L269.6 650.6 L268.7 650.3 L267.8 650.0 L266.9 649.7 L265.9 649.4 L265.0 649.1 L264.1 648.8 L263.1 648.5 L262.2 648.2 L261.3 647.9 L260.3 647.6 L259.4 647.3 L258.5 647.0 L257.6 646.7 L256.6 646.3 L255.7 646.0 L254.8 645.7 L253.8 645.4 L252.9 645.1 L252.0 644.8 L251.0 644.5 L250.1 644.2 L249.2 643.9 L248.2 643.5 L247.3 643.2 L246.4 642.9 L245.5 642.6 L244.5 642.3 L243.6 641.9 L242.7 641.6 L241.7 641.3 L240.8 641.0 L239.9 640.7 L239.0 640.3 L238.0 640.0 L237.1 639.7 L236.2 639.3 L235.2 639.0 L234.3 638.7 L233.4 638.4 L232.4 638.0 L231.5 637.7 L230.6 637.4 L229.7 637.0 L228.7 636.7 L227.8 636.3 L226.9 636.0 L225.9 635.7 L225.0 635.3 L224.1 635.0 L223.1 634.6 L222.2 634.3 L221.3 633.9 L220.3 633.6 L219.4 633.3 L218.5 632.9 L217.6 632.6 L216.6 632.2 L215.7 631.9 L214.8 631.5 L213.8 631.1 L212.9 630.8 L212.0 630.4 L211.1 630.1 L210.1 629.7 L209.2 629.3 L208.3 629.0 L207.3 628.6 L206.4 628.3 L205.5 627.9 L204.5 627.5 L203.6 627.2 L202.7 626.8 L201.8 626.4 L200.8 626.0 L199.9 625.7 L199.0 625.3 L198.0 624.9 L197.1 624.5 L196.2 624.1 L195.2 623.8 L194.3 623.4 L193.4 623.0 L192.4 622.6 L191.5 622.2 L190.6 621.8 L189.7 621.4 L188.7 621.0 L187.8 620.7 L186.9 620.3 L185.9 619.9 L185.0 619.5 L184.1 619.1 L183.2 618.7 L182.2 618.3 L181.3 617.8 L180.4 617.4 L179.4 617.0 L178.5 616.6 L177.6 616.2 L176.6 615.8 L175.7 615.4 L174.8 614.9 L173.8 614.5 L172.9 614.1 L172.0 613.7 L171.1 613.3 L170.1 612.8 L169.2 612.4 L168.3 612.0 L167.3 611.5 L166.4 611.1 L165.5 610.6 L164.6 610.2 L163.6 609.8 L162.7 609.3 L161.8 608.9 L160.8 608.4 L159.9 608.0 L159.0 607.5 L158.0 607.1 L157.1 606.6 L156.2 606.1 L155.2 605.7 L154.3 605.2 L153.4 604.7 L152.5 604.3 L151.5 603.8 L150.6 603.3 L149.7 602.8 L148.7 602.3 L147.8 601.9 L146.9 601.4 L146.0 600.9 L145.0 600.4 L144.1 599.9 L143.2 599.4 L142.2 598.9 L141.3 598.4 L140.4 597.9 L139.4 597.4 L138.5 596.8 L137.6 596.3 L136.7 595.8 L135.7 595.3 L134.8 594.7 L133.9 594.2 L132.9 593.7 L132.0 593.1 L131.1 592.6 L130.1 592.0 L129.2 591.5 L128.3 590.9 L127.3 590.4 L126.4 589.8 L125.5 589.2 L124.6 588.7 L123.6 588.1 L122.7 587.5 L121.8 586.9 L120.8 586.3 L119.9 585.7 L119.0 585.1 L118.1 584.5 L117.1 583.9 L116.2 583.3 L115.3 582.7 L114.3 582.0 L113.4 581.4 L112.5 580.8 L111.5 580.1 L110.6 579.5 L109.7 578.8 L108.8 578.1 L107.8 577.5 L106.9 576.8 L106.0 576.1 L105.0 575.4 L104.1 574.7 L103.2 574.0 L102.2 573.3 L101.3 572.6 L100.4 571.8 L99.5 571.1 L98.5 570.4 L97.6 569.6 L96.7 568.8 L95.7 568.1 L94.8 567.3 L93.9 566.5 L92.9 565.7 L92.0 564.8 L91.1 564.0 L90.2 563.2 L89.2 562.3 L88.3 561.4 L87.4 560.5 L86.4 559.6 L85.5 558.7 L84.6 557.8 L83.6 556.8 L82.7 555.9 L81.8 554.9 L80.8 553.9 L79.9 552.8 L79.0 551.8 L78.1 550.7 L77.1 549.6 L76.2 548.5 L75.3 547.3 L74.3 546.1 L73.4 544.9 L72.5 543.6 L71.5 542.3 L70.6 541.0 L69.7 539.6 L68.8 538.1 L67.8 536.6 L66.9 534.9 L66.0 533.3 L65.0 531.5 L64.1 529.6 L63.2 527.5 L62.2 525.2 L61.3 522.8 L60.4 519.9 L59.5 516.6 L58.5 512.1 L57.6 501.4Z" fill="#007e00" fill-opacity="0.2" stroke="#007e00" stroke-opacity="0.2" stroke-width="1.39" stroke-linejoin="round"/>
<path d="M57.6 501.4 L58.5 485.1 L59.5 478.4 L60.4 473.2 L61.3 468.8 L62.2 464.9 L63.2 461.4 L64.1 458.1 L65.0 455.1 L66.0 452.3 L66.9 449.6 L67.8 447.0 L68.8 444.6 L69.7 442.2 L70.6 439.9 L71.5 437.7 L72.5 435.6 L73.4 433.6 L74.3 431.6 L75.3 429.6 L76.2 427.7 L77.1 425.9 L78.1 424.1 L79.0 422.3 L79.9 420.6 L80.8 418.9 L81.8 417.2 L82.7 415.6 L83.6 414.0 L84.6 412.4 L85.5 410.8 L86.4 409.3 L87.4 407.8 L88.3 406.3 L89.2 404.9 L90.2 403.4 L91.1 402.0 L92.0 400.6 L92.9 399.2 L93.9 397.9 L94.8 396.5 L95.7 395.2 L96.7 393.9 L97.6 392.5 L98.5 391.3 L99.5 390.0 L100.4 388.7 L101.3 387.5 L102.2 386.2 L103.2 385.0 L104.1 383.8 L105.0 382.6 L106.0 381.4 L106.9 380.2 L107.8 379.1 L108.8 377.9 L109.7 376.8 L110.6 375.6 L111.5 374.5 L112.5 373.4 L113.4 372.3 L114.3 371.2 L115.3 370.1 L116.2 369.0 L117.1 367.9 L118.1 366.8 L119.0 365.8 L119.9 364.7 L120.8 363.7 L121.8 362.6 L122.7 361.6 L123.6 360.6 L124.6 359.5 L125.5 358.5 L126.4 357.5 L127.3 356.5 L128.3 355.5 L129.2 354.6 L130.1 353.6 L131.1 352.6 L132.0 351.6 L132.9 350.7 L133.9 349.7 L134.8 348.8 L135.7 347.8 L136.7 346.9 L137.6 345.9 L138.5 345.0 L139.4 344.1 L140.4 343.1 L141.3 342.2 L142.2 341.3 L143.2 340.4 L144.1 339.5 L145.0 338.6 L146.0 337.7 L146.9 336.8 L147.8 335.9 L148.7 335.1 L149.7 334.2 L150.6 333.3 L151.5 332.4 L152.5 331.6 L153.4 330.7 L154.3 329.9 L155.2 329.0 L156.2 328.1 L157.1 327.3 L158.0 326.5 L159.0 325.6 L159.9 324.8 L160.8 324.0 L161.8 323.1 L162.7 322.3 L163.6 321.5 L164.6 320.7 L165.5 319.8 L166.4 319.0 L167.3 318.2 L168.3 317.4 L169.2 316.6 L170.1 315.8 L171.1 315.0 L172.0 314.2 L172.9 313.4 L173.8 312.7 L174.8 311.9 L175.7 311.1 L176.6 310.3 L177.6 309.5 L178.5 308.8 L179.4 308.0 L180.4 307.2 L181.3 306.5 L182.2 305.7 L183.2 304.9 L184.1 304.2 L185.0 303.4 L185.9 302.7 L186.9 301.9 L187.8 301.2 L188.7 300.4 L189.7 299.7 L190.6 299.0 L191.5 298.2 L192.4 297.5 L193.4 296.8 L194.3 296.0 L195.2 295.3 L196.2 294.6 L197.1 293.8 L198.0 293.1 L199.0 292.4 L199.9 291.7 L200.8 291.0 L201.8 290.3 L202.7 289.5 L203.6 288.8 L204.5 288.1 L205.5 287.4 L206.4 286.7 L207.3 286.0 L208.3 285.3 L209.2 284.6 L210.1 283.9 L211.1 283.2 L212.0 282.6 L212.9 281.9 L213.8 281.2 L214.8 280.5 L215.7 279.8 L216.6 279.1 L217.6 278.5 L218.5 277.8 L219.4 277.1 L220.3 276.4 L221.3 275.7 L222.2 275.1 L223.1 274.4 L224.1 273.7 L225.0 273.1 L225.9 272.4 L226.9 271.8 L227.8 271.1 L228.7 270.4 L229.7 269.8 L230.6 269.1 L231.5 268.5 L232.4 267.8 L233.4 267.2 L234.3 266.5 L235.2 265.9 L236.2 265.2 L237.1 264.6 L238.0 263.9 L239.0 263.3 L239.9 262.6 L240.8 262.0 L241.7 261.4 L242.7 260.7 L243.6 260.1 L244.5 259.5 L245.5 258.8 L246.4 258.2 L247.3 257.6 L248.2 256.9 L249.2 256.3 L250.1 255.7 L251.0 255.1 L252.0 254.5 L252.9 253.8 L253.8 253.2 L254.8 252.6 L255.7 252.0 L256.6 251.4 L257.6 250.7 L258.5 250.1 L259.4 249.5 L260.3 248.9 L261.3 248.3 L262.2 247.7 L263.1 247.1 L264.1 246.5 L265.0 245.9 L265.9 245.3 L266.9 244.7 L267.8 244.1 L268.7 243.5 L269.6 242.9 L270.6 242.3 L271.5 241.7 L272.4 241.1 L273.4 240.5 L274.3 239.9 L275.2 239.3 L276.2 238.7 L277.1 238.1 L278.0 237.6 L278.9 237.0 L279.9 236.4 L280.8 235.8 L281.7 235.2 L282.7 234.6 L283.6 234.0 L284.5 233.5 L285.5 232.9 L286.4 232.3 L287.3 231.7 L288.2 231.2 L289.2 230.6 L290.1 230.0 L291.0 229.4 L292.0 228.9 L292.9 228.3 L293.8 227.7 L294.8 227.2 L295.7 226.6 L296.6 226.0 L297.5 225.5 L298.5 224.9 L299.4 224.3 L300.3 223.8 L301.3 223.2 L302.2 222.6 L303.1 222.1 L304.1 221.5 L305.0 221.0 L305.9 220.4 L306.8 219.9 L307.8 219.3 L308.7 218.7 L309.6 218.2 L310.6 217.6 L311.5 217.1 L312.4 216.5 L313.4 216.0 L314.3 215.4 L315.2 214.9 L316.1 214.3 L317.1 213.8 L318.0 213.2 L318.9 212.7 L319.9 212.2 L320.8 211.6 L321.7 211.1 L322.7 210.5 L323.6 210.0 L324.5 209.5 L325.4 208.9 L326.4 208.4 L327.3 207.8 L328.2 207.3 L329.2 206.8 L330.1 206.2 L331.0 205.7 L332.0 205.2 L332.9 204.6 L333.8 204.1 L334.7 203.6 L335.7 203.0 L336.6 202.5 L337.5 202.0 L338.5 201.5 L339.4 200.9 L340.3 200.4 L341.3 199.9 L342.2 199.4 L343.1 198.8 L344.0 198.3 L345.0 197.8 L345.9 197.3 L346.8 196.7 L347.8 196.2 L348.7 195.7 L349.6 195.2 L350.6 194.7 L351.5 194.2 L352.4 193.6 L353.3 193.1 L354.3 192.6 L355.2 192.1 L356.1 191.6 L357.1 191.1 L358.0 190.6 L358.9 190.0 L359.9 189.5 L360.8 189.0 L361.7 188.5 L362.6 188.0 L363.6 187.5 L364.5 187.0 L365.4 186.5 L366.4 186.0 L367.3 185.5 L368.2 185.0 L369.2 184.5 L370.1 184.0 L371.0 183.5 L371.9 183.0 L372.9 182.5 L373.8 182.0 L374.7 181.5 L375.7 181.0 L376.6 180.5 L377.5 180.0 L378.5 179.5 L379.4 179.0 L380.3 178.5 L381.2 178.0 L382.2 177.5 L383.1 177.0 L384.0 176.5 L385.0 176.0 L385.9 175.5 L386.8 175.0 L387.8 174.5 L388.7 174.0 L389.6 173.5 L390.5 173.0 L391.5 172.6 L392.4 172.1 L393.3 171.6 L394.3 171.1 L395.2 170.6 L396.1 170.1 L397.1 169.6 L398.0 169.2 L398.9 168.7 L399.8 168.2 L400.8 167.7 L401.7 167.2 L402.6 166.7 L403.6 166.3 L404.5 165.8 L405.4 165.3 L406.4 164.8 L407.3 164.3 L408.2 163.9 L409.1 163.4 L410.1 162.9 L411.0 162.4 L411.9 162.0 L412.9 161.5 L413.8 161.0 L414.7 160.5 L415.7 160.1 L416.6 159.6 L417.5 159.1 L418.4 158.6 L419.4 158.2 L420.3 157.7 L421.2 157.2 L422.2 156.7 L423.1 156.3 L424.0 155.8 L425.0 155.3 L425.9 154.9 L426.8 154.4 L427.7 153.9 L428.7 153.5 L429.6 153.0 L430.5 152.5 L431.5 152.1 L432.4 151.6 L433.3 151.1 L434.3 150.7 L435.2 150.2 L436.1 149.8 L437.0 149.3 L438.0 148.8 L438.9 148.4 L439.8 147.9 L440.8 147.4 L441.7 147.0 L442.6 146.5 L443.6 146.1 L444.5 145.6 L445.4 145.2 L446.3 144.7 L447.3 144.2 L448.2 143.8 L449.1 143.3 L450.1 142.9 L451.0 142.4 L451.9 142.0 L452.9 141.5 L453.8 141.1 L454.7 140.6 L455.6 140.1 L456.6 139.7 L457.5 139.2 L458.4 138.8 L459.4 138.3 L460.3 137.9 L461.2 137.4 L462.2 137.0 L463.1 136.5 L464.0 136.1 L464.9 135.6 L465.9 135.2 L466.8 134.8 L467.7 134.3 L468.7 133.9 L469.6 133.4 L470.5 133.0 L471.5 132.5 L472.4 132.1 L473.3 131.6 L474.2 131.2 L475.2 130.7 L476.1 130.3 L477.0 129.9 L478.0 129.4 L478.9 129.0 L479.8 128.5 L480.8 128.1 L481.7 127.7 L482.6 127.2 L483.5 126.8 L484.5 126.3 L485.4 125.9 L486.3 125.5 L487.3 125.0 L488.2 124.6 L489.1 124.1 L490.1 123.7 L491.0 123.3 L491.9 122.8 L492.8 122.4 L493.8 122.0 L494.7 121.5 L495.6 121.1 L496.6 120.7 L497.5 120.2 L498.4 119.8 L499.4 119.4 L500.3 118.9 L501.2 118.5 L502.1 118.1 L503.1 117.6 L504.0 117.2 L504.9 116.8 L505.9 116.3 L506.8 115.9 L507.7 115.5 L508.7 115.1 L509.6 114.6 L510.5 114.2 L511.4 113.8 L512.4 113.3 L513.3 112.9 L514.2 112.5 L515.2 112.1 L516.1 111.6 L517.0 111.2 L518.0 110.8 L518.9 110.4 L519.8 109.9 L520.7 109.5 L521.7 109.1 L522.6 108.7 L523.5 108.2 L524.5 107.8 L525.4 107.4 L526.3 107.0 L527.2 106.6 L528.2 106.1 L529.1 105.7 L530.0 105.3 L531.0 104.9 L531.9 104.4 L532.8 104.0 L533.8 103.6 L534.7 103.2 L535.6 102.8 L536.6 102.4 L537.5 101.9 L538.4 101.5 L539.3 101.1 L540.3 100.7 L541.2 100.3 L542.1 99.9 L543.1 99.4 L544.0 99.0 L544.9 98.6 L545.9 98.2 L546.8 97.8 L547.7 97.4 L548.6 97.0 L549.6 96.5 L550.5 96.1 L551.4 95.7 L552.4 95.3 L553.3 94.9 L554.2 94.5 L555.1 94.1 L556.1 93.7 L557.0 93.2 L557.9 92.8 L558.9 92.4 L559.8 92.0 L560.7 91.6 L561.7 91.2 L562.6 90.8 L563.5 90.4 L564.5 90.0 L565.4 89.6 L566.3 89.2 L567.2 88.7 L568.2 88.3 L569.1 87.9 L570.0 87.5 L571.0 87.1 L571.9 86.7 L572.8 86.3 L573.8 85.9 L574.7 85.5 L575.6 85.1 L576.5 84.7 L577.5 84.3 L578.4 83.9 L579.3 83.5 L580.3 83.1 L581.2 82.7 L582.1 82.3 L583.1 81.9 L584.0 81.5 L584.9 81.1 L585.8 80.7 L586.8 80.3 L587.7 79.9 L588.6 79.5 L589.6 79.1 L590.5 78.7 L591.4 78.3 L592.4 77.9 L593.3 77.5 L594.2 77.1 L595.1 76.7 L596.1 76.3 L597.0 75.9 L597.9 75.5 L598.9 75.1 L599.8 74.7 L600.7 74.3 L601.7 73.9 L602.6 73.5 L603.5 73.1 L604.4 72.7 L605.4 72.3 L606.3 71.9 L607.2 71.5 L608.2 71.1 L609.1 70.7 L610.0 70.3 L611.0 70.0 L611.9 69.6 L612.8 69.2 L613.7 68.8 L614.7 68.4 L615.6 68.0 L616.5 67.6 L617.5 67.2 L618.4 66.8 L619.3 66.4 L620.2 66.0 L621.2 65.6 L622.1 65.3 L623.0 64.9 L624.0 64.5 L624.9 64.1 L625.8 63.7 L626.8 63.3 L627.7 62.9 L628.6 62.5 L629.6 62.1 L630.5 61.8 L631.4 61.4 L632.3 61.0 L633.3 60.6 L634.2 60.2 L635.1 59.8 L636.1 59.4 L637.0 59.1 L637.9 58.7 L638.9 58.3 L639.8 57.9 L640.7 57.5 L641.6 57.1 L642.6 56.7 L643.5 56.4 L644.4 56.0 L645.4 55.6 L646.3 55.2 L647.2 54.8 L648.2 54.4 L649.1 54.1 L650.0 53.7 L650.9 53.3 L651.9 52.9 L652.8 52.5 L653.7 52.2 L654.7 51.8 L655.6 51.4 L656.5 51.0 L657.5 50.6 L658.4 50.3 L659.3 49.9 L660.2 49.5 L661.2 49.1 L662.1 48.7 L663.0 48.4 L664.0 48.0 L664.9 47.6 L665.8 47.2 L666.8 46.8 L667.7 46.5 L668.6 46.1 L669.5 45.7 L670.5 45.3 L671.4 45.0 L672.3 44.6 L673.3 44.2 L674.2 43.8 L675.1 43.5 L676.1 43.1 L677.0 42.7 L677.9 42.3 L678.8 42.0 L679.8 41.6 L680.7 41.2 L681.6 40.8 L682.6 40.5 L683.5 40.1 L684.4 39.7 L685.4 39.3 L686.3 39.0 L687.2 38.6 L688.1 38.2 L689.1 37.9 L690.0 37.5 L690.9 37.1 L691.9 36.7 L692.8 36.4 L693.7 36.0 L694.7 35.6 L695.6 35.3 L696.5 34.9 L697.4 34.5 L698.4 34.1 L699.3 33.8 L700.2 33.4 L701.2 33.0 L702.1 32.7 L703.0 32.3 L704.0 31.9 L704.9 31.6 L705.8 31.2 L706.7 30.8 L707.7 30.5 L708.6 30.1 L709.5 29.7 L710.5 29.4 L711.4 29.0 L712.3 28.6 L713.3 28.3 L714.2 27.9 L715.1 27.5 L716.0 27.2 L717.0 26.8 L717.9 26.4 L718.8 26.1 L719.8 25.7 L720.7 25.3 L721.6 25.0 L722.6 24.6 L723.5 24.2 L724.4 23.9 L725.3 23.5 L726.3 23.2 L727.2 22.8 L728.1 22.4 L729.1 22.1 L730.0 21.7 L730.9 21.3 L731.9 21.0 L732.8 20.6 L733.7 20.3 L734.6 19.9 L735.6 19.5 L736.5 19.2 L737.4 18.8 L738.4 18.5 L739.3 18.1 L740.2 17.7 L741.2 17.4 L742.1 17.0 L743.0 16.7 L743.9 16.3 L744.9 15.9 L745.8 15.6 L746.7 15.2 L747.7 14.9 L748.6 14.5 L749.5 14.1 L750.5 13.8 L751.4 13.4 L752.3 13.1 L753.2 12.7 L754.2 12.4 L755.1 12.0 L756.0 11.6 L757.0 11.3 L757.9 10.9 L758.8 10.6 L759.8 10.2 L760.7 9.9 L761.6 9.5 L762.5 9.2 L763.5 8.8 L764.4 8.4 L765.3 8.1 L766.3 7.7 L767.2 7.4 L768.1 7.0 L769.1 6.7 L770.0 6.3 L770.9 6.0 L771.8 5.6 L772.8 5.3 L773.7 4.9 L774.6 4.6 L775.6 4.2 L776.5 3.8 L777.4 3.5 L778.4 3.1 L779.3 2.8 L780.2 2.4 L781.1 2.1 L782.1 1.7 L783.0 1.4 L783.9 1.0 L784.9 0.7 L785.8 0.3 L786.7 -0.0 L787.7 -0.4 L788.6 -0.7 L789.5 -1.1 L790.4 -1.4 L791.4 -1.8 L792.3 -2.1 L793.2 -2.5 L794.2 -2.8 L795.1 -3.2 L796.0 -3.5 L797.0 -3.9 L797.9 -4.2 L798.8 -4.6 L799.7 -4.9 L800.7 -5.2 L801.6 -5.6 L802.5 -5.9 L803.5 -6.3 L804.4 -6.6 L805.3 -7.0 L806.3 -7.3 L807.2 -7.7 L808.1 -8.0 L809.0 -8.4 L810.0 -8.7 L810.9 -9.1 L811.8 -9.4 L812.8 -9.8 L813.7 -10.1 L814.6 -10.4 L815.6 -10.8 L816.5 -11.1 L817.4 -11.5 L818.3 -11.8 L819.3 -12.2 L820.2 -12.5 L821.1 -12.9 L822.1 -13.2 L823.0 -13.5 L823.9 -13.9 L824.9 -14.2 L825.8 -14.6 L826.7 -14.9 L827.6 -15.3 L828.6 -15.6 L829.5 -15.9 L830.4 -16.3 L831.4 -16.6 L832.3 -17.0 L833.2 -17.3 L834.2 -17.6 L835.1 -18.0 L836.0 -18.3 L836.9 -18.7 L837.9 -19.0 L838.8 -19.4 L839.7 -19.7 L840.7 -20.0 L841.6 -20.4 L842.5 -20.7 L843.5 -21.1 L844.4 -21.4 L845.3 -21.7 L846.2 -22.1 L847.2 -22.4 L848.1 -22.7 L849.0 -23.1 L850.0 -23.4 L850.9 -23.8 L851.8 -24.1 L852.8 -24.4 L853.7 -24.8 L854.6 -25.1 L855.5 -25.5 L856.5 -25.8 L857.4 -26.1 L858.3 -26.5 L859.3 -26.8 L860.2 -27.1 L861.1 -27.5 L862.1 -27.8 L863.0 -28.1 L863.9 -28.5 L864.8 -28.8 L865.8 -29.2 L866.7 -29.5 L867.6 -29.8 L868.6 -30.2 L869.5 -30.5 L870.4 -30.8 L871.4 -31.2 L872.3 -31.5 L873.2 -31.8 L874.1 -32.2 L875.1 -32.5 L876.0 -32.8 L876.9 -33.2 L877.9 -33.5 L878.8 -33.8 L879.7 -34.2 L880.7 -34.5 L881.6 -34.8 L882.5 -35.2 L883.4 -35.5 L884.4 -35.8 L885.3 -36.2 L886.2 -36.5 L887.2 -36.8 L888.1 -37.2 L889.0 -37.5 L890.0 -37.8 L890.9 -38.2 L891.8 -38.5 L892.7 -38.8 L893.7 -39.2 L894.6 -39.5 L895.5 -39.8 L896.5 -40.2 L897.4 -40.5 L898.3 -40.8 L899.3 -41.1 L900.2 -41.5 L901.1 -41.8 L902.0 -42.1 L903.0 -42.5 L903.9 -42.8 L904.8 -43.1 L905.8 -43.5 L906.7 -43.8 L907.6 -44.1 L908.6 -44.4 L909.5 -44.8 L910.4 -45.1 L911.3 -45.4 L912.3 -45.8 L913.2 -46.1 L914.1 -46.4 L915.1 -46.7 L916.0 -47.1 L916.9 -47.4 L917.9 -47.7 L918.8 -48.0 L919.7 -48.4 L920.6 -48.7 L921.6 -49.0 L922.5 -49.4 L923.4 -49.7 L924.4 -50.0 L925.3 -50.3 L926.2 -50.7 L927.2 -51.0 L928.1 -51.3 L929.0 -51.6 L929.9 -52.0 L930.9 -52.3 L931.8 -52.6 L932.7 -52.9 L933.7 -53.3 L934.6 -53.6 L935.5 -53.9 L936.5 -54.2 L937.4 -54.6 L938.3 -54.9 L939.2 -55.2 L940.2 -55.5 L941.1 -55.9 L942.0 -56.2 L943.0 -56.5 L943.9 -56.8 L944.8 -57.2 L945.8 -57.5 L946.7 -57.8 L947.6 -58.1 L948.5 -58.4 L949.5 -58.8 L950.4 -59.1 L951.3 -59.4 L952.3 -59.7 L953.2 -60.1 L954.1 -60.4 L955.1 -60.7 L956.0 -61.0 L956.9 -61.3 L957.8 -61.7 L958.8 -62.0 L959.7 -62.3 L960.6 -62.6 L961.6 -62.9 L962.5 -63.3 L963.4 -63.6 L964.4 -63.9 L965.3 -64.2 L966.2 -64.6 L967.1 -64.9 L968.1 -65.2 L969.0 -65.5 L969.9 -65.8 L970.9 -66.1 L971.8 -66.5 L972.7 -66.8 L973.7 -67.1 L974.6 -67.4 L975.5 -67.7 L976.4 -68.1 L977.4 -68.4 L978.3 -68.7 L979.2 -69.0 L980.2 -69.3 L981.1 -69.7 L982.0 -70.0 L983.0 -70.3 L983.9 -70.6 L984.8 -70.9 L985.7 -71.2 L985.7 952.3 L984.8 952.1 L983.9 951.9 L983.0 951.7 L982.0 951.5 L981.1 951.3 L980.2 951.1 L979.2 950.9 L978.3 950.8 L977.4 950.6 L976.4 950.4 L975.5 950.2 L974.6 950.0 L973.7 949.8 L972.7 949.6 L971.8 949.4 L970.9 949.2 L969.9 949.0 L969.0 948.8 L968.1 948.6 L967.1 948.4 L966.2 948.2 L965.3 948.0 L964.4 947.8 L963.4 947.6 L962.5 947.4 L961.6 947.2 L960.6 947.0 L959.7 946.8 L958.8 946.6 L957.8 946.4 L956.9 946.2 L956.0 946.0 L955.1 945.8 L954.1 945.6 L953.2 945.4 L952.3 945.2 L951.3 945.0 L950.4 944.8 L949.5 944.6 L948.5 944.4 L947.6 944.2 L946.7 944.0 L945.8 943.8 L944.8 943.6 L943.9 943.4 L943.0 943.2 L942.0 943.0 L941.1 942.8 L940.2 942.6 L939.2 942.4 L938.3 942.2 L937.4 942.0 L936.5 941.8 L935.5 941.6 L934.6 941.4 L933.7 941.2 L932.7 941.0 L931.8 940.8 L930.9 940.6 L929.9 940.4 L929.0 940.2 L928.1 939.9 L927.2 939.7 L926.2 939.5 L925.3 939.3 L924.4 939.1 L923.4 938.9 L922.5 938.7 L921.6 938.5 L920.6 938.3 L919.7 938.1 L918.8 937.9 L917.9 937.7 L916.9 937.5 L916.0 937.3 L915.1 937.1 L914.1 936.9 L913.2 936.7 L912.3 936.5 L911.3 936.3 L910.4 936.1 L909.5 935.8 L908.6 935.6 L907.6 935.4 L906.7 935.2 L905.8 935.0 L904.8 934.8 L903.9 934.6 L903.0 934.4 L902.0 934.2 L901.1 934.0 L900.2 933.8 L899.3 933.6 L898.3 933.4 L897.4 933.1 L896.5 932.9 L895.5 932.7 L894.6 932.5 L893.7 932.3 L892.7 932.1 L891.8 931.9 L890.9 931.7 L890.0 931.5 L889.0 931.3 L888.1 931.1 L887.2 930.8 L886.2 930.6 L885.3 930.4 L884.4 930.2 L883.4 930.0 L882.5 929.8 L881.6 929.6 L880.7 929.4 L879.7 929.2 L878.8 928.9 L877.9 928.7 L876.9 928.5 L876.0 928.3 L875.1 928.1 L874.1 927.9 L873.2 927.7 L872.3 927.5 L871.4 927.2 L870.4 927.0 L869.5 926.8 L868.6 926.6 L867.6 926.4 L866.7 926.2 L865.8 926.0 L864.8 925.8 L863.9 925.5 L863.0 925.3 L862.1 925.1 L861.1 924.9 L860.2 924.7 L859.3 924.5 L858.3 924.3 L857.4 924.0 L856.5 923.8 L855.5 923.6 L854.6 923.4 L853.7 923.2 L852.8 923.0 L851.8 922.7 L850.9 922.5 L850.0 922.3 L849.0 922.1 L848.1 921.9 L847.2 921.7 L846.2 921.4 L845.3 921.2 L844.4 921.0 L843.5 920.8 L842.5 920.6 L841.6 920.4 L840.7 920.1 L839.7 919.9 L838.8 919.7 L837.9 919.5 L836.9 919.3 L836.0 919.0 L835.1 918.8 L834.2 918.6 L833.2 918.4 L832.3 918.2 L831.4 917.9 L830.4 917.7 L829.5 917.5 L828.6 917.3 L827.6 917.1 L826.7 916.8 L825.8 916.6 L824.9 916.4 L823.9 916.2 L823.0 916.0 L822.1 915.7 L821.1 915.5 L820.2 915.3 L819.3 915.1 L818.3 914.9 L817.4 914.6 L816.5 914.4 L815.6 914.2 L814.6 914.0 L813.7 913.7 L812.8 913.5 L811.8 913.3 L810.9 913.1 L810.0 912.8 L809.0 912.6 L808.1 912.4 L807.2 912.2 L806.3 911.9 L805.3 911.7 L804.4 911.5 L803.5 911.3 L802.5 911.0 L801.6 910.8 L800.7 910.6 L799.7 910.4 L798.8 910.1 L797.9 909.9 L797.0 909.7 L796.0 909.5 L795.1 909.2 L794.2 909.0 L793.2 908.8 L792.3 908.6 L791.4 908.3 L790.4 908.1 L789.5 907.9 L788.6 907.6 L787.7 907.4 L786.7 907.2 L785.8 907.0 L784.9 906.7 L783.9 906.5 L783.0 906.3 L782.1 906.0 L781.1 905.8 L780.2 905.6 L779.3 905.4 L778.4 905.1 L777.4 904.9 L776.5 904.7 L775.6 904.4 L774.6 904.2 L773.7 904.0 L772.8 903.7 L771.8 903.5 L770.9 903.3 L770.0 903.1 L769.1 902.8 L768.1 902.6 L767.2 902.4 L766.3 902.1 L765.3 901.9 L764.4 901.7 L763.5 901.4 L762.5 901.2 L761.6 901.0 L760.7 900.7 L759.8 900.5 L758.8 900.3 L757.9 900.0 L757.0 899.8 L756.0 899.6 L755.1 899.3 L754.2 899.1 L753.2 898.9 L752.3 898.6 L751.4 898.4 L750.5 898.1 L749.5 897.9 L748.6 897.7 L747.7 897.4 L746.7 897.2 L745.8 897.0 L744.9 896.7 L743.9 896.5 L743.0 896.3 L742.1 896.0 L741.2 895.8 L740.2 895.5 L739.3 895.3 L738.4 895.1 L737.4 894.8 L736.5 894.6 L735.6 894.3 L734.6 894.1 L733.7 893.9 L732.8 893.6 L731.9 893.4 L730.9 893.2 L730.0 892.9 L729.1 892.7 L728.1 892.4 L727.2 892.2 L726.3 891.9 L725.3 891.7 L724.4 891.5 L723.5 891.2 L722.6 891.0 L721.6 890.7 L720.7 890.5 L719.8 890.3 L718.8 890.0 L717.9 889.8 L717.0 889.5 L716.0 889.3 L715.1 889.0 L714.2 888.8 L713.3 888.6 L712.3 888.3 L711.4 888.1 L710.5 887.8 L709.5 887.6 L708.6 887.3 L707.7 887.1 L706.7 886.8 L705.8 886.6 L704.9 886.3 L704.0 886.1 L703.0 885.9 L702.1 885.6 L701.2 885.4 L700.2 885.1 L699.3 884.9 L698.4 884.6 L697.4 884.4 L696.5 884.1 L695.6 883.9 L694.7 883.6 L693.7 883.4 L692.8 883.1 L691.9 882.9 L690.9 882.6 L690.0 882.4 L689.1 882.1 L688.1 881.9 L687.2 881.6 L686.3 881.4 L685.4 881.1 L684.4 880.9 L683.5 880.6 L682.6 880.4 L681.6 880.1 L680.7 879.9 L679.8 879.6 L678.8 879.4 L677.9 879.1 L677.0 878.9 L676.1 878.6 L675.1 878.4 L674.2 878.1 L673.3 877.8 L672.3 877.6 L671.4 877.3 L670.5 877.1 L669.5 876.8 L668.6 876.6 L667.7 876.3 L666.8 876.1 L665.8 875.8 L664.9 875.6 L664.0 875.3 L663.0 875.0 L662.1 874.8 L661.2 874.5 L660.2 874.3 L659.3 874.0 L658.4 873.8 L657.5 873.5 L656.5 873.2 L655.6 873.0 L654.7 872.7 L653.7 872.5 L652.8 872.2 L651.9 871.9 L650.9 871.7 L650.0 871.4 L649.1 871.2 L648.2 870.9 L647.2 870.6 L646.3 870.4 L645.4 870.1 L644.4 869.9 L643.5 869.6 L642.6 869.3 L641.6 869.1 L640.7 868.8 L639.8 868.6 L638.9 868.3 L637.9 868.0 L637.0 867.8 L636.1 867.5 L635.1 867.2 L634.2 867.0 L633.3 866.7 L632.3 866.4 L631.4 866.2 L630.5 865.9 L629.6 865.6 L628.6 865.4 L627.7 865.1 L626.8 864.8 L625.8 864.6 L624.9 864.3 L624.0 864.0 L623.0 863.8 L622.1 863.5 L621.2 863.2 L620.2 863.0 L619.3 862.7 L618.4 862.4 L617.5 862.2 L616.5 861.9 L615.6 861.6 L614.7 861.4 L613.7 861.1 L612.8 860.8 L611.9 860.6 L611.0 860.3 L610.0 860.0 L609.1 859.7 L608.2 859.5 L607.2 859.2 L606.3 858.9 L605.4 858.6 L604.4 858.4 L603.5 858.1 L602.6 857.8 L601.7 857.6 L600.7 857.3 L599.8 857.0 L598.9 856.7 L597.9 856.5 L597.0 856.2 L596.1 855.9 L595.1 855.6 L594.2 855.4 L593.3 855.1 L592.4 854.8 L591.4 854.5 L590.5 854.2 L589.6 854.0 L588.6 853.7 L587.7 853.4 L586.8 853.1 L585.8 852.9 L584.9 852.6 L584.0 852.3 L583.1 852.0 L582.1 851.7 L581.2 851.5 L580.3 851.2 L579.3 850.9 L578.4 850.6 L577.5 850.3 L576.5 850.1 L575.6 849.8 L574.7 849.5 L573.8 849.2 L572.8 848.9 L571.9 848.6 L571.0 848.4 L570.0 848.1 L569.1 847.8 L568.2 847.5 L567.2 847.2 L566.3 846.9 L565.4 846.6 L564.5 846.4 L563.5 846.1 L562.6 845.8 L561.7 845.5 L560.7 845.2 L559.8 844.9 L558.9 844.6 L557.9 844.4 L557.0 844.1 L556.1 843.8 L555.1 843.5 L554.2 843.2 L553.3 842.9 L552.4 842.6 L551.4 842.3 L550.5 842.0 L549.6 841.7 L548.6 841.5 L547.7 841.2 L546.8 840.9 L545.9 840.6 L544.9 840.3 L544.0 840.0 L543.1 839.7 L542.1 839.4 L541.2 839.1 L540.3 838.8 L539.3 838.5 L538.4 838.2 L537.5 837.9 L536.6 837.6 L535.6 837.3 L534.7 837.0 L533.8 836.7 L532.8 836.4 L531.9 836.2 L531.0 835.9 L530.0 835.6 L529.1 835.3 L528.2 835.0 L527.2 834.7 L526.3 834.4 L525.4 834.1 L524.5 833.8 L523.5 833.5 L522.6 833.2 L521.7 832.9 L520.7 832.6 L519.8 832.3 L518.9 831.9 L518.0 831.6 L517.0 831.3 L516.1 831.0 L515.2 830.7 L514.2 830.4 L513.3 830.1 L512.4 829.8 L511.4 829.5 L510.5 829.2 L509.6 828.9 L508.7 828.6 L507.7 828.3 L506.8 828.0 L505.9 827.7 L504.9 827.4 L504.0 827.1 L503.1 826.7 L502.1 826.4 L501.2 826.1 L500.3 825.8 L499.4 825.5 L498.4 825.2 L497.5 824.9 L496.6 824.6 L495.6 824.3 L494.7 824.0 L493.8 823.6 L492.8 823.3 L491.9 823.0 L491.0 822.7 L490.1 822.4 L489.1 822.1 L488.2 821.8 L487.3 821.4 L486.3 821.1 L485.4 820.8 L484.5 820.5 L483.5 820.2 L482.6 819.9 L481.7 819.5 L480.8 819.2 L479.8 818.9 L478.9 818.6 L478.0 818.3 L477.0 817.9 L476.1 817.6 L475.2 817.3 L474.2 817.0 L473.3 816.7 L472.4 816.3 L471.5 816.0 L470.5 815.7 L469.6 815.4 L468.7 815.0 L467.7 814.7 L466.8 814.4 L465.9 814.1 L464.9 813.7 L464.0 813.4 L463.1 813.1 L462.2 812.8 L461.2 812.4 L460.3 812.1 L459.4 811.8 L458.4 811.4 L457.5 811.1 L456.6 810.8 L455.6 810.5 L454.7 810.1 L453.8 809.8 L452.9 809.5 L451.9 809.1 L451.0 808.8 L450.1 808.5 L449.1 808.1 L448.2 807.8 L447.3 807.5 L446.3 807.1 L445.4 806.8 L444.5 806.5 L443.6 806.1 L442.6 805.8 L441.7 805.4 L440.8 805.1 L439.8 804.8 L438.9 804.4 L438.0 804.1 L437.0 803.7 L436.1 803.4 L435.2 803.1 L434.3 802.7 L433.3 802.4 L432.4 802.0 L431.5 801.7 L430.5 801.4 L429.6 801.0 L428.7 800.7 L427.7 800.3 L426.8 800.0 L425.9 799.6 L425.0 799.3 L424.0 798.9 L423.1 798.6 L422.2 798.2 L421.2 797.9 L420.3 797.5 L419.4 797.2 L418.4 796.8 L417.5 796.5 L416.6 796.1 L415.7 795.8 L414.7 795.4 L413.8 795.1 L412.9 794.7 L411.9 794.4 L411.0 794.0 L410.1 793.7 L409.1 793.3 L408.2 793.0 L407.3 792.6 L406.4 792.2 L405.4 791.9 L404.5 791.5 L403.6 791.2 L402.6 790.8 L401.7 790.5 L400.8 790.1 L399.8 789.7 L398.9 789.4 L398.0 789.0 L397.1 788.6 L396.1 788.3 L395.2 787.9 L394.3 787.6 L393.3 787.2 L392.4 786.8 L391.5 786.5 L390.5 786.1 L389.6 785.7 L388.7 785.4 L387.8 785.0 L386.8 784.6 L385.9 784.2 L385.0 783.9 L384.0 783.5 L383.1 783.1 L382.2 782.8 L381.2 782.4 L380.3 782.0 L379.4 781.6 L378.5 781.3 L377.5 780.9 L376.6 780.5 L375.7 780.1 L374.7 779.8 L373.8 779.4 L372.9 779.0 L371.9 778.6 L371.0 778.2 L370.1 777.9 L369.2 777.5 L368.2 777.1 L367.3 776.7 L366.4 776.3 L365.4 776.0 L364.5 775.6 L363.6 775.2 L362.6 774.8 L361.7 774.4 L360.8 774.0 L359.9 773.6 L358.9 773.2 L358.0 772.9 L357.1 772.5 L356.1 772.1 L355.2 771.7 L354.3 771.3 L353.3 770.9 L352.4 770.5 L351.5 770.1 L350.6 769.7 L349.6 769.3 L348.7 768.9 L347.8 768.5 L346.8 768.1 L345.9 767.7 L345.0 767.3 L344.0 766.9 L343.1 766.5 L342.2 766.1 L341.3 765.7 L340.3 765.3 L339.4 764.9 L338.5 764.5 L337.5 764.1 L336.6 763.7 L335.7 763.3 L334.7 762.9 L333.8 762.5 L332.9 762.1 L332.0 761.7 L331.0 761.2 L330.1 760.8 L329.2 760.4 L328.2 760.0 L327.3 759.6 L326.4 759.2 L325.4 758.8 L324.5 758.3 L323.6 757.9 L322.7 757.5 L321.7 757.1 L320.8 756.7 L319.9 756.3 L318.9 755.8 L318.0 755.4 L317.1 755.0 L316.1 754.6 L315.2 754.1 L314.3 753.7 L313.4 753.3 L312.4 752.9 L311.5 752.4 L310.6 752.0 L309.6 751.6 L308.7 751.1 L307.8 750.7 L306.8 750.3 L305.9 749.8 L305.0 749.4 L304.1 749.0 L303.1 748.5 L302.2 748.1 L301.3 747.6 L300.3 747.2 L299.4 746.8 L298.5 746.3 L297.5 745.9 L296.6 745.4 L295.7 745.0 L294.8 744.5 L293.8 744.1 L292.9 743.7 L292.0 743.2 L291.0 742.8 L290.1 742.3 L289.2 741.9 L288.2 741.4 L287.3 740.9 L286.4 740.5 L285.5 740.0 L284.5 739.6 L283.6 739.1 L282.7 738.7 L281.7 738.2 L280.8 737.7 L279.9 737.3 L278.9 736.8 L278.0 736.3 L277.1 735.9 L276.2 735.4 L275.2 734.9 L274.3 734.5 L273.4 734.0 L272.4 733.5 L271.5 733.1 L270.6 732.6 L269.6 732.1 L268.7 731.6 L267.8 731.2 L266.9 730.7 L265.9 730.2 L265.0 729.7 L264.1 729.2 L263.1 728.8 L262.2 728.3 L261.3 727.8 L260.3 727.3 L259.4 726.8 L258.5 726.3 L257.6 725.8 L256.6 725.3 L255.7 724.8 L254.8 724.4 L253.8 723.9 L252.9 723.4 L252.0 722.9 L251.0 722.4 L250.1 721.9 L249.2 721.4 L248.2 720.9 L247.3 720.3 L246.4 719.8 L245.5 719.3 L244.5 718.8 L243.6 718.3 L242.7 717.8 L241.7 717.3 L240.8 716.8 L239.9 716.3 L239.0 715.7 L238.0 715.2 L237.1 714.7 L236.2 714.2 L235.2 713.6 L234.3 713.1 L233.4 712.6 L232.4 712.1 L231.5 711.5 L230.6 711.0 L229.7 710.5 L228.7 709.9 L227.8 709.4 L226.9 708.9 L225.9 708.3 L225.0 707.8 L224.1 707.2 L223.1 706.7 L222.2 706.1 L221.3 705.6 L220.3 705.0 L219.4 704.5 L218.5 703.9 L217.6 703.4 L216.6 702.8 L215.7 702.3 L214.8 701.7 L213.8 701.1 L212.9 700.6 L212.0 700.0 L211.1 699.4 L210.1 698.9 L209.2 698.3 L208.3 697.7 L207.3 697.1 L206.4 696.6 L205.5 696.0 L204.5 695.4 L203.6 694.8 L202.7 694.2 L201.8 693.6 L200.8 693.0 L199.9 692.5 L199.0 691.9 L198.0 691.3 L197.1 690.7 L196.2 690.1 L195.2 689.5 L194.3 688.9 L193.4 688.2 L192.4 687.6 L191.5 687.0 L190.6 686.4 L189.7 685.8 L188.7 685.2 L187.8 684.5 L186.9 683.9 L185.9 683.3 L185.0 682.7 L184.1 682.0 L183.2 681.4 L182.2 680.8 L181.3 680.1 L180.4 679.5 L179.4 678.8 L178.5 678.2 L177.6 677.5 L176.6 676.9 L175.7 676.2 L174.8 675.6 L173.8 674.9 L172.9 674.2 L172.0 673.6 L171.1 672.9 L170.1 672.2 L169.2 671.5 L168.3 670.9 L167.3 670.2 L166.4 669.5 L165.5 668.8 L164.6 668.1 L163.6 667.4 L162.7 666.7 L161.8 666.0 L160.8 665.3 L159.9 664.6 L159.0 663.9 L158.0 663.2 L157.1 662.5 L156.2 661.7 L155.2 661.0 L154.3 660.3 L153.4 659.5 L152.5 658.8 L151.5 658.1 L150.6 657.3 L149.7 656.6 L148.7 655.8 L147.8 655.0 L146.9 654.3 L146.0 653.5 L145.0 652.7 L144.1 652.0 L143.2 651.2 L142.2 650.4 L141.3 649.6 L140.4 648.8 L139.4 648.0 L138.5 647.2 L137.6 646.4 L136.7 645.6 L135.7 644.8 L134.8 643.9 L133.9 643.1 L132.9 642.3 L132.0 641.4 L131.1 640.6 L130.1 639.7 L129.2 638.9 L128.3 638.0 L127.3 637.1 L126.4 636.2 L125.5 635.4 L124.6 634.5 L123.6 633.6 L122.7 632.7 L121.8 631.8 L120.8 630.8 L119.9 629.9 L119.0 629.0 L118.1 628.0 L117.1 627.1 L116.2 626.1 L115.3 625.2 L114.3 624.2 L113.4 623.2 L112.5 622.2 L111.5 621.2 L110.6 620.2 L109.7 619.2 L108.8 618.2 L107.8 617.2 L106.9 616.1 L106.0 615.1 L105.0 614.0 L104.1 612.9 L103.2 611.8 L102.2 610.7 L101.3 609.6 L100.4 608.5 L99.5 607.3 L98.5 606.2 L97.6 605.0 L96.7 603.8 L95.7 602.6 L94.8 601.4 L93.9 600.2 L92.9 599.0 L92.0 597.7 L91.1 596.4 L90.2 595.1 L89.2 593.8 L88.3 592.5 L87.4 591.1 L86.4 589.7 L85.5 588.3 L84.6 586.9 L83.6 585.4 L82.7 583.9 L81.8 582.4 L80.8 580.9 L79.9 579.3 L79.0 577.7 L78.1 576.0 L77.1 574.4 L76.2 572.6 L75.3 570.9 L74.3 569.0 L73.4 567.2 L72.5 565.2 L71.5 563.2 L70.6 561.2 L69.7 559.0 L68.8 556.8 L67.8 554.5 L66.9 552.0 L66.0 549.5 L65.0 546.7 L64.1 543.8 L63.2 540.7 L62.2 537.3 L61.3 533.6 L60.4 529.3 L59.5 524.2 L58.5 517.5 L57.6 501.4Z" fill="#007e00" fill-opacity="0.2" stroke="#007e00" stroke-opacity="0.2" stroke-width="1.39" stroke-linejoin="round"/>
<line x1="244.5" y1="32.5" x2="244.5" y2="725.5" stroke="#b0b0b0" stroke-width="1.11"/>
<line x1="430.5" y1="32.5" x2="430.5" y2="725.5" stroke="#b0b0b0" stroke-width="1.11"/>
<line x1="616.5" y1="32.5" x2="616.5" y2="725.5" stroke="#b0b0b0" stroke-width="1.11"/>
<line x1="802.5" y1="32.5" x2="802.5" y2="725.5" stroke="#b0b0b0" stroke-width="1.11"/>
<line x1="58.5" y1="136.5" x2="988.5" y2="136.5" stroke="#b0b0b0" stroke-width="1.11"/>
<line x1="58.5" y1="258.5" x2="988.5" y2="258.5" stroke="#b0b0b0" stroke-width="1.11"/>
<line x1="58.5" y1="380.5" x2="988.5" y2="380.5" stroke="#b0b0b0" stroke-width="1.11"/>
<line x1="58.5" y1="502.5" x2="988.5" y2="502.5" stroke="#b0b0b0" stroke-width="1.11"/>
<line x1="58.5" y1="624.5" x2="988.5" y2="624.5" stroke="#b0b0b0" stroke-width="1.11"/>
<path d="M58.5 502.3 L77.0 505.8 L93.6 516.5 L95.9 502.3 L97.8 496.4 L98.3 446.6 L103.1 442.3 L109.0 447.7 L113.0 451.3 L114.0 439.4 L118.5 443.0 L129.1 457.2 L135.1 454.9 L137.4 441.8 L140.0 446.6 L151.1 453.8 L155.8 455.3 L162.1 463.2 L167.7 462.5 L173.2 470.4 L177.9 468.0 L178.7 463.2 L180.8 438.7 L184.3 426.9 L187.4 428.5 L188.2 400.0 L188.4 383.7 L192.0 383.7 L200.3 376.1 L206.2 376.6 L213.3 383.7 L215.7 377.1 L224.0 383.7 L231.1 389.6 L240.1 387.3 L240.6 374.7 L247.7 376.1 L256.7 386.1 L257.7 360.0 L258.4 357.9 L266.7 364.3 L272.6 367.4 L290.0 383.7 L306.6 402.7 L317.7 403.2 L337.4 428.5 L344.5 434.0 L346.9 432.4 L364.3 449.8 L365.1 421.3 L369.1 419.8 L370.6 410.3 L376.2 415.8 L389.6 432.4 L391.2 400.0 L391.3 382.5 L395.5 390.8 L397.9 389.6 L413.3 402.7 L425.2 415.7 L427.1 365.9 L432.3 374.2 L441.8 377.8 L456.0 395.6 L461.3 401.6 L468.5 410.3 L473.2 414.2 L482.7 424.5 L485.8 427.7 L486.8 413.4 L490.4 411.1 L507.0 431.1 L508.1 415.7 L515.9 411.1 L522.2 415.0 L528.5 422.1 L541.2 431.6 L549.1 438.7 L560.2 445.8 L566.5 448.2 L578.8 447.4 L578.1 430.8 L581.7 424.9 L591.1 430.8 L600.6 440.3 L614.9 456.9 L622.0 465.2 L623.2 437.9 L630.3 435.6 L631.5 414.2 L638.6 411.9 L652.8 419.0 L667.0 430.8 L676.5 443.9 L688.4 456.9 L700.2 468.8 L709.7 479.4 L721.6 492.5 L733.4 504.3 L742.9 515.0 L747.7 509.1 L752.4 504.3 L753.6 491.3 L757.1 493.7 L764.2 502.0 L770.2 502.0 L780.8 511.5 L797.4 532.8 L802.2 537.5 L809.3 536.4 L812.8 538.7 L820.0 535.2 L828.3 544.7 L831.8 542.3 L846.0 562.5 L848.4 549.4 L856.7 560.1 L861.5 561.3 L868.6 561.3 L880.4 575.5 L882.3 557.7 L895.8 566.0 L897.0 517.4 L904.2 523.3 L916.0 539.9 L920.8 541.1 L923.1 535.2 L926.7 541.1 L929.1 530.4 L944.5 549.4 L956.3 558.9 L961.1 560.1 L962.3 549.4 L967.0 548.2 L982.4 564.8 L983.6 554.2 L986.4 551.8" fill="none" stroke="#ff7f0e" stroke-width="1.39" stroke-dasharray="1.39 2.29" stroke-linejoin="round"/>
<path d="M58.5 502.3 L68.7 483.3 L69.9 481.4 L73.4 483.6 L77.0 487.4 L80.5 490.9 L88.8 496.8 L90.5 486.2 L93.6 488.5 L97.1 495.2 L104.2 502.8 L110.2 505.8 L117.3 513.4 L125.6 525.3 L136.3 536.7 L141.5 531.2 L148.1 529.6 L152.9 526.0 L155.7 516.5 L157.4 501.2 L158.7 469.6 L163.7 474.3 L171.6 486.2 L176.4 490.9 L192.2 487.7 L194.5 472.7 L200.9 475.9 L204.8 479.0 L209.6 482.2 L214.3 487.0 L222.2 496.4 L227.0 505.1 L228.5 494.9 L233.7 492.5 L236.7 496.0 L240.8 496.6 L245.6 497.8 L250.9 502.5 L253.9 504.9 L261.0 512.0 L268.1 518.5 L274.0 525.7 L298.3 546.4 L303.7 557.1 L308.4 563.0 L314.4 567.7 L325.6 573.0 L329.1 571.8 L351.7 592.0 L368.3 610.9 L377.7 621.6 L388.4 622.8 L390.8 612.1 L397.9 613.3 L401.5 610.9 L408.6 613.3 L413.3 610.9 L419.2 615.7 L420.4 594.3 L422.8 586.0 L427.5 584.9 L437.0 597.9 L446.5 594.3 L456.0 603.8 L465.5 606.2 L475.0 618.1 L486.8 631.1 L488.0 581.3 L498.7 587.2 L502.3 589.6 L508.2 580.1 L515.3 584.9 L517.7 573.0 L524.8 578.9 L527.2 562.3 L532.6 567.7 L533.8 539.3 L543.3 551.1 L545.2 502.5 L552.8 508.5 L562.3 520.3 L578.9 541.7 L581.3 513.2 L590.8 515.6 L595.5 519.1 L597.1 458.1 L601.8 458.1 L611.3 472.3 L621.5 481.8 L622.7 447.4 L627.9 436.8 L631.5 435.6 L638.6 445.1 L648.1 455.7 L649.2 437.9 L652.8 439.1 L662.3 452.2 L674.2 456.9 L686.0 466.4 L695.5 471.1 L705.0 478.3 L707.4 428.5 L712.1 429.6 L721.6 442.7 L728.7 449.8 L738.2 461.7 L740.6 439.1 L747.7 445.1 L751.2 435.6 L757.4 443.8 L762.9 433.5 L770.0 439.1 L772.4 429.6 L774.0 417.7 L779.5 423.2 L784.3 401.9 L786.6 397.9 L803.2 416.9 L808.0 412.2 L814.3 423.2 L828.5 433.5 L833.3 433.5 L850.7 447.0 L879.1 478.6 L892.3 491.3 L901.8 496.0 L903.0 448.6 L911.3 453.4 L913.6 448.6 L924.3 459.3 L926.0 445.1 L935.0 455.7 L939.7 453.4 L945.7 459.3 L948.0 449.8 L963.4 466.4 L968.2 471.1 L970.6 461.7 L977.7 465.2 L986.4 470.4" fill="none" stroke="#2ca02c" stroke-width="1.39" stroke-dasharray="1.39 2.29" stroke-linejoin="round"/>
<path d="M58.5 502.3 L69.1 499.2 L69.9 450.6 L72.7 448.9 L75.8 448.9 L78.2 451.3 L84.6 458.9 L86.5 455.3 L90.5 456.0 L91.2 458.9 L92.4 448.9 L95.9 451.8 L98.3 454.9 L102.3 460.8 L122.5 481.4 L129.1 488.5 L133.9 492.1 L138.0 494.0 L139.5 479.0 L151.7 491.0 L160.0 497.0 L162.4 497.5 L167.7 489.8 L171.8 492.2 L177.9 496.4 L187.4 501.2 L192.2 509.1 L203.2 518.6 L208.0 517.0 L214.7 525.7 L218.9 527.4 L222.5 529.2 L223.4 479.0 L230.1 481.4 L234.9 480.6 L240.4 487.0 L242.0 480.6 L247.5 486.2 L249.1 473.5 L257.0 484.6 L264.9 494.1 L271.2 485.4 L272.0 475.9 L279.1 482.2 L282.3 483.0 L291.8 493.3 L296.5 500.4 L297.8 472.7 L301.9 475.9 L306.6 483.0 L309.0 482.2 L318.5 493.3 L331.1 509.1 L333.5 502.8 L337.4 501.2 L338.2 485.4 L340.3 474.3 L343.0 460.9 L345.3 464.8 L351.7 472.7 L361.1 475.9 L368.3 478.3 L375.4 487.0 L377.0 483.0 L380.1 486.2 L408.6 517.8 L427.5 537.4 L441.8 554.0 L450.1 555.2 L452.5 524.4 L456.0 524.4 L466.7 536.2 L471.4 541.0 L472.4 520.7 L474.0 495.4 L501.7 523.0 L503.2 506.4 L504.0 474.8 L509.1 457.4 L519.0 461.4 L523.8 451.9 L525.4 409.1 L527.0 407.5 L534.9 415.4 L537.2 409.1 L538.8 396.4 L544.3 401.2 L553.8 410.7 L566.5 417.0 L571.2 419.8 L582.3 436.4 L588.6 434.8 L593.4 425.3 L596.5 420.6 L596.9 394.9 L599.3 390.1 L602.4 385.4 L609.6 392.5 L615.9 401.2 L622.2 409.1 L628.5 412.3 L638.0 412.0 L642.8 414.6 L650.7 417.8 L662.3 422.5 L671.8 426.1 L678.9 430.8 L686.0 421.3 L690.7 423.7 L700.2 435.6 L705.0 437.9 L707.3 426.1 L714.5 429.6 L728.7 447.4 L738.2 454.5 L740.0 458.8 L753.4 472.3 L755.8 462.8 L766.1 465.1 L767.7 447.7 L777.9 443.8 L793.8 447.7 L812.7 469.9 L817.5 453.3 L822.2 453.3 L827.7 461.2 L830.1 448.5 L839.6 458.0 L854.3 475.9 L873.3 492.5 L882.8 500.8 L884.7 451.0 L901.8 471.1 L912.5 484.2 L914.1 465.2 L925.5 471.1 L939.7 484.2 L949.2 486.6 L963.4 502.0 L986.4 524.5" fill="none" stroke="#d62728" stroke-width="1.39" stroke-dasharray="1.39 2.29" stroke-linejoin="round"/>
<path d="M58.5 502.3 L85.3 517.7 L86.0 469.6 L113.3 485.7 L116.3 485.0 L116.3 405.1 L119.2 406.2 L126.3 415.7 L127.2 388.0 L133.4 394.4 L134.4 360.0 L135.1 346.0 L149.3 359.6 L154.0 358.9 L163.5 369.1 L169.5 372.3 L174.2 370.7 L189.6 389.6 L193.2 394.4 L200.3 392.0 L214.5 408.6 L215.7 388.5 L222.8 395.6 L223.3 360.0 L224.0 316.9 L228.3 309.8 L229.2 260.0 L239.4 267.1 L247.7 276.6 L253.7 278.9 L255.3 229.1 L263.1 236.2 L264.8 210.2 L273.8 220.4 L278.1 219.6 L290.0 236.2 L307.8 258.8 L313.7 264.7 L316.1 264.0 L333.9 285.3 L337.4 271.8 L340.3 264.7 L361.1 288.4 L367.1 290.8 L368.3 283.0 L371.8 282.5 L394.3 312.1 L397.9 313.3 L407.9 325.2 L408.6 315.7 L413.3 313.3 L414.5 286.8 L419.2 293.2 L421.6 282.0 L425.2 283.0 L438.2 301.0 L440.6 300.3 L442.3 264.0 L445.3 265.4 L448.4 236.2 L452.5 238.6 L470.2 261.1 L472.1 248.1 L475.0 249.3 L495.1 270.6 L496.3 254.5 L499.9 257.6 L512.9 273.0 L516.5 273.0 L520.0 276.1 L534.2 290.3 L546.1 305.7 L550.8 290.3 L572.2 316.4 L579.3 315.2 L591.1 327.1 L595.9 328.3 L610.1 344.9 L618.4 347.2 L619.6 335.4 L624.3 341.3 L662.3 375.2 L665.1 361.9 L671.8 369.8 L674.6 364.3 L683.6 361.5 L689.6 365.5 L696.7 357.9 L703.8 366.7 L704.5 314.0 L709.7 319.2 L733.4 343.0 L747.7 357.2 L749.6 340.6 L757.2 349.1 L759.5 352.0 L773.7 368.6 L781.1 380.6 L796.1 397.9 L796.9 367.9 L809.6 385.3 L826.2 406.6 L830.9 401.1 L841.2 410.6 L843.6 406.6 L853.0 413.8 L854.2 382.1 L855.4 360.0 L856.7 335.4 L861.5 338.9 L873.3 352.0 L885.2 359.1 L887.5 363.8 L901.8 375.7 L908.9 382.8 L912.5 380.4 L925.5 394.7 L930.2 401.8 L932.6 373.3 L939.7 379.2 L949.2 392.3 L951.6 343.7 L956.3 349.6 L964.6 354.3 L965.3 306.9 L972.9 312.8 L976.5 310.5 L977.7 285.6 L983.6 292.7 L985.3 295.1" fill="none" stroke="#9467bd" stroke-width="1.39" stroke-dasharray="1.39 2.29" stroke-linejoin="round"/>
<path d="M58.5 502.3 L63.9 496.8 L64.6 460.1 L69.9 462.0 L75.8 462.5 L80.5 467.2 L86.5 469.6 L88.8 473.1 L93.6 475.5 L97.1 481.4 L103.1 487.4 L138.6 492.2 L138.6 472.0 L148.1 482.1 L157.6 492.2 L158.8 480.3 L161.2 484.0 L171.6 494.1 L172.7 478.7 L179.5 483.0 L187.4 484.9 L192.2 488.5 L197.7 494.9 L203.2 490.4 L204.8 485.4 L208.0 482.5 L208.8 435.6 L214.3 441.9 L215.9 442.7 L236.4 468.8 L241.2 468.8 L242.5 420.6 L247.5 423.7 L266.5 446.6 L270.4 436.4 L287.0 455.3 L291.0 456.1 L296.3 463.2 L301.9 472.7 L305.8 474.3 L307.4 458.5 L312.1 464.8 L316.1 469.6 L317.7 457.7 L322.4 460.9 L323.5 441.1 L327.9 444.3 L334.3 449.0 L337.4 446.6 L341.4 447.4 L353.2 459.3 L357.2 455.3 L368.3 468.0 L370.6 452.2 L372.2 448.2 L388.8 468.8 L391.2 455.3 L393.6 453.8 L397.5 456.1 L408.6 468.0 L412.5 466.4 L426.0 474.3 L429.1 479.1 L438.6 486.2 L445.7 479.1 L450.0 482.2 L455.8 490.1 L465.3 502.8 L474.0 510.7 L481.1 518.6 L486.4 523.9 L487.5 477.5 L490.5 475.2 L497.3 483.9 L499.0 486.0 L499.4 437.6 L502.4 434.9 L504.4 438.0 L506.4 433.3 L508.3 436.1 L515.4 444.8 L522.2 452.2 L534.9 462.4 L541.2 464.8 L542.8 460.9 L549.1 458.5 L550.7 453.8 L551.5 406.0 L550.8 407.1 L557.9 411.9 L567.4 416.6 L579.3 426.1 L588.8 435.6 L600.6 443.9 L610.1 452.2 L619.6 459.3 L631.5 456.9 L638.6 464.0 L648.1 473.5 L657.5 483.0 L659.9 471.1 L668.2 477.1 L676.5 468.8 L683.6 471.1 L690.8 467.6 L700.2 473.5 L716.8 494.9 L733.4 497.2 L738.2 504.3 L747.7 516.2 L760.0 529.2 L759.5 528.1 L764.2 520.9 L770.2 524.5 L772.5 515.0 L777.3 511.5 L778.5 497.2 L782.0 503.2 L783.2 456.9 L788.0 454.5 L788.3 410.6 L804.8 421.7 L808.0 419.3 L808.8 393.2 L811.1 391.6 L819.1 402.7 L822.2 397.9 L828.5 401.9 L833.3 403.5 L834.1 375.8 L838.0 376.6 L847.5 388.5 L849.1 379.0 L855.4 384.5 L869.6 397.9 L872.0 387.7 L877.5 388.5 L890.2 400.3 L893.4 390.0 L898.1 393.2 L898.9 383.7 L923.1 407.7 L927.9 397.0 L942.1 420.8 L944.0 370.9 L946.8 368.6 L958.7 384.0 L959.9 353.2 L963.4 356.7 L972.9 370.9 L985.3 378.1" fill="none" stroke="#8c564b" stroke-width="1.39" stroke-dasharray="1.39 2.29" stroke-linejoin="round"/>
<path d="M58.5 502.3 L60.4 494.5 L63.9 481.4 L69.4 485.0 L74.1 488.3 L77.0 490.9 L79.8 494.0 L82.2 492.1 L86.5 496.8 L97.1 508.2 L103.1 508.7 L109.0 512.3 L113.7 515.8 L122.0 521.7 L122.5 506.3 L129.1 500.4 L139.8 499.2 L141.3 475.1 L141.6 445.8 L146.3 447.4 L157.4 458.5 L160.6 453.8 L167.7 460.1 L169.2 455.3 L173.2 460.1 L175.6 447.4 L177.9 448.2 L187.4 458.5 L192.2 463.2 L193.8 450.6 L197.7 452.2 L198.8 434.0 L201.7 437.9 L208.0 445.8 L211.9 444.3 L219.1 453.8 L226.2 460.9 L228.5 445.1 L234.9 447.4 L236.4 440.3 L236.5 398.0 L240.1 395.6 L241.5 365.0 L243.0 337.0 L244.1 327.0 L259.6 337.5 L264.8 339.9 L265.5 325.7 L270.3 326.4 L272.6 307.4 L292.8 327.5 L290.0 324.0 L294.7 326.4 L312.5 347.7 L316.1 346.5 L317.3 335.8 L325.6 344.2 L331.5 347.7 L333.9 345.3 L339.8 352.5 L343.4 352.5 L358.8 366.7 L364.7 365.5 L377.7 380.2 L381.3 379.0 L394.3 395.6 L396.2 392.0 L397.2 360.0 L397.9 344.2 L402.6 350.1 L405.0 334.2 L410.9 333.5 L422.8 348.4 L429.9 352.5 L447.7 370.7 L449.5 376.7 L451.1 365.6 L454.2 368.8 L458.2 374.3 L460.6 373.5 L468.5 383.8 L478.7 387.7 L485.8 396.4 L487.4 395.7 L503.2 414.6 L508.0 420.6 L515.9 430.8 L525.4 441.9 L526.2 433.2 L534.9 438.7 L536.8 437.2 L537.5 390.1 L542.0 388.5 L542.3 341.9 L544.3 341.1 L549.9 347.4 L550.7 331.6 L553.8 334.0 L561.7 339.5 L564.9 333.2 L571.2 336.4 L581.5 349.0 L583.1 339.5 L588.6 345.8 L589.9 332.4 L595.9 335.4 L610.1 350.8 L612.5 343.7 L662.3 376.9 L668.2 372.1 L686.0 382.8 L709.7 404.6 L712.6 401.8 L713.3 375.7 L727.5 387.1 L728.7 357.9 L734.6 361.5 L735.8 316.4 L742.9 323.5 L750.0 331.8 L757.1 327.1 L773.7 344.9 L780.8 347.2 L782.0 321.1 L787.9 322.3 L797.4 333.0 L800.3 320.0 L805.7 323.5 L821.1 344.9 L825.9 334.2 L831.8 336.6 L836.6 344.9 L837.7 297.4 L844.9 291.5 L846.8 265.4 L856.7 269.0 L861.5 272.5 L873.3 285.6 L892.3 311.7 L901.8 314.0 L916.0 328.3 L925.5 334.2 L939.7 349.6 L946.8 355.5 L954.0 354.3 L963.4 361.5 L968.2 368.6 L970.6 359.1 L977.7 362.6 L985.3 367.4" fill="none" stroke="#e377c2" stroke-width="1.39" stroke-dasharray="1.39 2.29" stroke-linejoin="round"/>
<path d="M58.5 502.3 L94.4 529.0 L103.4 533.7 L111.3 535.3 L119.2 536.1 L126.0 544.0 L140.2 556.7 L148.1 565.9 L168.5 574.5 L170.1 571.4 L179.6 580.1 L192.2 595.1 L195.4 591.9 L214.3 616.4 L216.7 601.4 L217.5 588.8 L222.3 590.3 L227.8 595.1 L229.0 596.0 L229.5 546.0 L233.7 551.1 L234.9 523.9 L239.1 519.7 L245.6 523.3 L247.5 525.0 L247.9 511.4 L250.9 513.8 L257.4 519.7 L268.1 529.8 L281.1 539.3 L293.0 550.0 L298.3 554.5 L309.8 556.0 L310.2 504.9 L313.2 505.5 L316.7 511.4 L317.3 483.0 L321.6 485.4 L327.9 485.4 L334.3 491.7 L335.5 464.8 L340.6 468.0 L348.5 477.5 L353.2 483.8 L354.5 435.6 L356.4 436.0 L364.3 445.8 L367.5 432.4 L372.2 439.5 L375.4 437.9 L376.2 420.6 L381.7 419.8 L384.9 423.7 L394.3 434.0 L403.8 437.9 L414.9 449.0 L422.8 459.3 L427.5 454.5 L428.3 445.1 L432.3 449.8 L441.8 458.5 L442.7 459.0 L446.3 459.0 L450.6 464.9 L452.6 462.2 L459.3 470.8 L468.4 483.1 L474.7 478.0 L476.3 450.3 L478.7 450.5 L481.1 453.2 L483.3 453.0 L483.5 409.1 L487.4 397.2 L493.8 404.3 L503.2 417.0 L504.8 413.8 L505.1 388.5 L508.0 387.7 L508.3 341.1 L511.1 342.4 L517.5 347.4 L534.9 371.9 L541.2 372.7 L542.8 375.9 L557.0 388.5 L557.8 375.9 L561.7 380.6 L572.8 393.3 L582.3 404.3 L591.8 413.8 L600.6 401.8 L613.7 413.6 L622.0 416.0 L631.5 419.6 L638.6 407.7 L648.1 411.3 L651.6 407.7 L654.0 385.2 L662.3 387.5 L668.2 384.0 L674.2 363.8 L675.3 343.7 L681.3 347.2 L695.5 359.6 L705.0 373.3 L706.2 344.9 L716.8 352.5 L740.6 375.7 L744.1 367.4 L751.2 373.3 L754.7 365.0 L758.3 354.3 L764.2 361.5 L778.5 373.3 L797.4 382.8 L806.9 389.9 L810.5 392.3 L811.2 330.6 L818.8 336.6 L825.9 341.3 L833.0 348.4 L836.6 331.8 L844.9 340.1 L856.7 355.5 L863.8 363.8 L873.3 375.7 L879.2 370.9 L886.4 379.2 L887.5 330.6 L892.3 333.0 L907.7 354.3 L909.4 303.4 L913.6 298.6 L920.8 305.7 L930.2 316.4 L932.6 312.8 L943.3 327.1 L948.0 309.3 L949.2 299.8 L954.0 305.7 L955.1 289.1 L963.4 296.2 L975.3 312.8 L977.7 309.3 L985.3 319.2" fill="none" stroke="#7f7f7f" stroke-width="1.39" stroke-dasharray="1.39 2.29" stroke-linejoin="round"/>
<path d="M58.5 502.3 L78.2 509.9 L83.4 511.1 L85.7 514.2 L92.4 520.6 L93.6 504.7 L97.1 508.2 L105.4 511.1 L114.9 521.7 L122.0 528.4 L136.3 541.0 L155.2 552.1 L159.5 550.5 L160.3 500.5 L168.5 507.5 L173.2 501.2 L184.3 511.5 L198.5 517.8 L213.6 529.8 L227.8 548.8 L231.9 550.0 L232.5 533.4 L233.1 525.1 L236.1 523.9 L236.7 503.7 L237.9 497.8 L240.8 497.8 L244.4 503.7 L249.1 508.5 L250.9 500.8 L250.4 482.2 L252.3 477.5 L257.0 482.2 L261.7 473.5 L266.5 477.5 L271.2 483.0 L274.4 472.7 L279.1 471.1 L283.9 477.5 L285.5 464.8 L290.2 468.8 L292.6 459.3 L292.4 459.3 L299.5 468.8 L305.8 468.8 L307.1 419.0 L312.1 412.6 L321.6 420.6 L337.4 437.2 L339.3 388.5 L343.4 388.0 L361.1 407.4 L370.6 421.7 L384.9 434.7 L394.3 432.3 L395.5 415.0 L413.3 430.7 L418.1 424.5 L444.2 456.8 L445.3 431.1 L452.0 435.9 L453.6 409.3 L465.5 422.1 L471.4 424.5 L474.5 411.0 L498.7 440.6 L511.7 457.7 L512.9 444.9 L518.9 443.0 L528.3 454.9 L534.9 459.0 L536.0 441.0 L546.0 445.0 L547.5 415.8 L553.8 415.8 L557.8 426.9 L559.6 417.0 L560.3 378.1 L567.4 386.4 L579.3 399.4 L591.1 413.6 L605.4 427.9 L614.9 439.1 L624.3 447.4 L633.8 456.9 L643.3 449.8 L652.8 456.9 L662.3 454.5 L668.2 451.0 L668.9 400.6 L676.5 410.1 L681.3 403.0 L690.8 411.3 L691.9 382.8 L700.2 393.5 L709.7 401.8 L721.6 406.5 L733.4 413.6 L747.7 427.9 L762.1 442.2 L775.6 461.2 L777.2 450.9 L780.3 450.1 L781.1 402.7 L795.3 416.9 L799.3 418.5 L799.8 367.9 L801.0 320.0 L806.9 325.9 L821.1 344.9 L844.9 366.2 L861.5 379.2 L863.4 342.5 L864.3 312.8 L868.6 311.7 L870.5 285.6 L875.7 290.3 L887.5 301.0 L889.9 293.9 L894.7 295.1 L896.6 283.2 L904.2 289.1 L920.8 310.5 L923.1 303.4 L927.9 293.9 L937.4 299.8 L942.1 295.1 L951.6 305.7 L963.4 321.1 L986.4 350.8" fill="none" stroke="#17becf" stroke-width="1.39" stroke-dasharray="1.39 2.29" stroke-linejoin="round"/>
<path d="M59.2 502.9 L66.3 511.8 L67.7 511.2 L68.0 505.3 L70.6 505.9 L106.6 549.9 L107.4 537.3 L111.3 538.6 L123.6 553.5 L125.6 551.5 L147.2 581.2 L148.7 575.8 L152.7 581.6 L155.1 582.1 L161.4 590.3 L163.0 586.4 L181.1 611.2 L183.0 611.7 L186.7 608.0 L190.6 611.2 L205.7 631.1 L207.2 625.9 L219.9 642.8 L221.5 624.3 L225.4 630.2 L228.3 625.4 L229.4 607.4 L230.5 606.5 L231.4 556.3 L244.4 569.5 L245.7 564.2 L248.2 514.5 L251.4 516.9 L263.2 531.9 L264.8 524.8 L269.6 527.2 L278.3 534.0 L280.6 528.7 L287.0 536.2 L290.9 535.5 L293.3 533.5 L317.0 566.2 L318.6 537.1 L331.2 553.6 L333.1 552.5 L337.5 558.3 L339.1 557.7 L347.4 569.4 L348.6 551.3 L357.9 564.5 L359.8 563.8 L367.4 574.0 L371.3 573.6 L376.9 581.1 L380.8 581.1 L384.0 577.2 L391.1 587.5 L392.7 587.2 L406.9 605.7 L409.8 596.6 L420.4 611.2 L423.0 606.8 L427.8 614.3 L429.1 585.1 L433.0 587.2 L435.4 585.6 L438.5 590.6 L440.1 589.8 L449.6 602.5 L451.2 601.7 L455.1 607.2 L456.7 606.4 L463.8 614.0 L466.2 613.6 L468.5 493.8 L470.8 492.2 L472.4 486.2 L478.7 495.4 L481.4 490.9 L485.1 496.2 L487.4 488.3 L492.2 487.8 L497.7 495.4 L500.1 489.1 L504.0 492.5 L507.2 496.6 L508.3 478.3 L514.0 487.5 L515.9 486.7 L525.1 499.3 L527.0 493.5 L531.4 500.9 L532.5 448.7 L534.5 447.9 L536.4 452.7 L538.3 445.6 L542.0 451.9 L543.6 446.0 L547.5 450.8 L550.7 449.5 L551.9 435.0 L553.8 442.4 L555.4 440.4 L568.1 456.2 L570.4 455.1 L571.5 425.8 L576.8 433.4 L578.8 429.0 L579.5 377.5 L581.4 378.3 L583.0 382.2 L585.1 381.4 L587.4 385.4 L588.7 373.5 L591.4 373.5 L595.3 377.2 L596.9 371.9 L600.9 377.5 L602.0 326.9 L610.4 338.7 L611.9 321.3 L615.6 325.6 L617.7 245.3 L619.7 232.4 L625.1 238.2 L627.2 238.7 L630.3 243.4 L631.4 228.7 L633.5 228.7 L635.1 212.5 L637.4 214.5 L639.8 215.0 L653.2 231.9 L654.5 217.7 L659.6 224.5 L660.8 222.4 L661.3 173.2 L664.0 169.3 L670.8 177.7 L673.5 177.2 L676.4 170.9 L681.4 178.0 L684.3 179.6 L685.8 128.7 L691.4 137.2 L693.4 129.3 L696.1 134.5 L698.5 134.0 L708.0 147.6 L709.9 147.6 L720.6 161.9 L721.9 149.8 L737.7 170.9 L739.6 161.9 L742.8 166.6 L746.7 156.6 L753.8 165.7 L755.7 165.3 L758.9 170.4 L760.2 140.0 L762.5 141.3 L764.9 140.8 L798.7 185.6 L800.3 185.1 L820.4 212.0 L823.2 170.1 L828.7 177.7 L830.3 159.0 L832.7 159.3 L839.0 167.7 L840.6 163.0 L851.7 177.7 L852.9 163.4 L855.1 166.1 L857.2 165.0 L866.7 178.3 L868.3 169.3 L872.5 165.0 L874.1 152.4 L878.5 158.2 L880.1 157.1 L884.1 163.8 L885.7 163.0 L892.0 170.9 L894.3 169.8 L897.5 174.5 L899.4 169.3 L908.6 181.5 L910.2 178.8 L913.0 183.0 L914.9 182.7 L916.5 185.6 L918.4 184.3 L926.3 195.1 L927.5 189.1 L934.2 198.9 L935.5 147.6 L938.6 148.8 L940.2 148.0 L946.5 155.6 L948.1 154.7 L952.0 160.7 L953.9 156.2 L960.7 164.2 L961.5 136.2 L963.4 135.4 L965.5 104.5 L967.0 103.0 L968.2 96.2 L970.2 97.4 L971.3 96.6 L981.3 110.1 L982.4 79.2 L984.4 77.2 L986.5 75.0" fill="none" stroke="#008000" stroke-width="2.78" stroke-linejoin="round" stroke-linecap="square"/>
<path d="M59.2 502.9 L62.3 505.7 L64.3 503.3 L73.0 514.4 L76.2 513.6 L78.9 516.3 L80.5 516.2 L87.6 526.2 L89.6 525.8 L96.3 534.5 L99.3 534.4 L104.2 540.8 L105.6 540.2 L110.9 547.2 L112.5 546.8 L129.1 568.0 L133.9 568.0 L134.5 558.2 L136.6 557.1 L144.2 568.0 L145.7 563.0 L154.8 575.6 L156.8 568.5 L171.0 585.9 L172.2 582.7 L176.6 587.0 L178.5 558.2 L180.5 562.2 L182.9 554.8 L187.6 560.6 L189.2 559.0 L193.7 566.1 L194.9 554.3 L202.7 564.6 L204.7 559.5 L207.4 561.1 L209.5 559.8 L214.2 567.9 L215.8 560.0 L227.7 575.8 L228.8 556.1 L230.8 552.9 L260.9 594.0 L263.2 593.2 L271.1 604.0 L274.3 603.0 L275.6 600.4 L277.5 603.5 L279.1 603.0 L299.6 630.4 L301.2 631.2 L305.1 636.2 L307.5 626.1 L314.6 635.6 L316.2 634.3 L318.6 638.3 L320.0 637.4 L323.2 640.3 L331.9 650.9 L334.2 650.9 L339.0 658.0 L339.8 650.9 L343.7 650.1 L350.0 658.0 L351.6 657.7 L353.5 660.4 L354.8 659.2 L365.8 673.0 L367.4 673.0 L371.4 679.3 L372.5 671.4 L385.6 688.8 L386.4 637.4 L388.0 638.2 L397.2 651.7 L398.6 622.4 L406.2 629.5 L409.3 631.4 L419.9 644.5 L422.8 644.5 L423.7 615.3 L427.5 620.8 L429.9 619.2 L439.4 631.4 L441.4 627.9 L464.2 658.3 L465.8 628.7 L475.5 642.3 L477.1 635.6 L483.4 643.2 L485.5 642.3 L490.6 649.5 L493.4 649.9 L494.5 634.1 L496.1 633.3 L499.7 639.6 L501.3 588.2 L504.0 587.9 L508.7 594.5 L510.8 594.2 L515.8 602.1 L519.0 600.1 L521.4 603.2 L523.4 602.7 L527.7 610.0 L530.1 609.5 L548.3 634.4 L549.8 627.4 L552.5 628.0 L572.0 653.8 L573.2 635.9 L581.5 646.7 L583.5 566.4 L587.8 571.6 L589.4 570.5 L602.8 588.2 L604.1 576.3 L615.5 592.2 L617.8 590.6 L621.8 592.9 L624.4 591.8 L640.9 614.0 L642.1 601.6 L647.7 607.9 L650.0 607.2 L651.3 595.3 L654.0 595.6 L665.1 610.3 L666.2 591.8 L669.3 594.0 L676.9 604.0 L678.5 604.0 L680.9 607.2 L682.5 606.7 L724.3 662.5 L727.5 656.6 L730.7 661.4 L732.6 657.0 L734.2 657.3 L738.3 663.0 L739.8 662.5 L748.9 674.7 L750.4 672.0 L752.5 675.6 L753.6 622.5 L756.3 621.4 L759.9 625.7 L761.5 624.5 L764.2 629.3 L765.8 614.0 L767.4 614.3 L770.0 618.4 L798.5 656.3 L800.4 655.1 L807.9 665.4 L809.2 647.2 L812.7 650.3 L818.2 657.5 L819.5 628.2 L830.1 641.6 L832.0 641.6 L835.1 646.4 L838.0 636.4 L849.8 652.2 L851.4 650.3 L858.9 660.6 L860.4 660.1 L868.8 672.5 L871.2 670.1 L890.2 695.4 L892.1 688.6 L898.1 697.0 L900.0 694.3 L904.7 701.2 L906.3 701.2 L908.3 700.1 L912.3 704.9 L913.4 653.8 L918.5 660.4 L920.1 660.1 L922.3 663.6 L924.4 662.9 L929.1 669.9 L930.7 664.5 L936.5 673.0 L938.1 642.4 L940.6 645.8 L942.5 645.5 L948.1 653.8 L949.7 653.0 L960.7 667.7 L962.0 667.7 L963.4 636.4 L972.6 648.2 L976.5 648.2 L980.5 650.6 L986.5 657.7" fill="none" stroke="#ff0000" stroke-width="2.78" stroke-linejoin="round" stroke-linecap="square"/>
<line x1="57.6" y1="501.4" x2="985.7" y2="440.5" stroke="#000" stroke-width="1.67" stroke-linecap="square"/>
</g>
<g opacity="0.035" fill="#202020" stroke="none">
<rect x="1" y="177" width="8" height="8"/><rect x="26" y="177" width="8" height="8"/><rect x="51" y="177" width="8" height="8"/><rect x="76" y="177" width="8" height="8"/><rect x="101" y="177" width="8" height="8"/><rect x="127" y="177" width="8" height="8"/>
<rect x="388" y="177" width="8" height="8"/><rect x="416" y="177" width="8" height="8"/><rect x="441" y="177" width="8" height="8"/><rect x="466" y="177" width="8" height="8"/><rect x="491" y="177" width="8" height="8"/><rect x="516" y="177" width="8" height="8"/>
<path d="M296 96 L336 104 Q348 107 345 119 L316 240 Q313 251 301 248 L296 247" fill="none" stroke="#202020" stroke-width="6"/>
<rect x="182" y="92" width="110" height="140" rx="12" ry="12" fill="none" stroke="#202020" stroke-width="6"/>
<path d="M232 138 C240 148 250 154 250 163 C250 171 240 174 234 168 L238 180 L226 180 L230 168 C224 174 214 171 214 163 C214 154 224 148 232 138 Z"/>
<text x="202" y="196" font-size="30" font-weight="bold" text-anchor="middle" transform="rotate(180 202 205)" style="font-family:'Liberation Sans',sans-serif;fill:#202020">A</text>
<text x="318" y="158" font-size="30" font-weight="bold" text-anchor="middle" transform="rotate(14 318 147)" style="font-family:'Liberation Sans',sans-serif;fill:#202020">A</text>
<text x="568" y="199" font-size="70" font-weight="bold" textLength="436" lengthAdjust="spacingAndGlyphs" style="font-family:'Liberation Serif',serif;fill:#202020">Primedope</text>
</g>

<rect x="58.5" y="32.5" width="930.0" height="693.0" fill="none" stroke="#000" stroke-width="1.11"/>
<line x1="58.5" y1="725.5" x2="58.5" y2="730.4" stroke="#000" stroke-width="1.11"/>
<line x1="244.5" y1="725.5" x2="244.5" y2="730.4" stroke="#000" stroke-width="1.11"/>
<line x1="430.5" y1="725.5" x2="430.5" y2="730.4" stroke="#000" stroke-width="1.11"/>
<line x1="616.5" y1="725.5" x2="616.5" y2="730.4" stroke="#000" stroke-width="1.11"/>
<line x1="802.5" y1="725.5" x2="802.5" y2="730.4" stroke="#000" stroke-width="1.11"/>
<line x1="988.5" y1="725.5" x2="988.5" y2="730.4" stroke="#000" stroke-width="1.11"/>
<line x1="53.6" y1="136.5" x2="58.5" y2="136.5" stroke="#000" stroke-width="1.11"/>
<line x1="53.6" y1="258.5" x2="58.5" y2="258.5" stroke="#000" stroke-width="1.11"/>
<line x1="53.6" y1="380.5" x2="58.5" y2="380.5" stroke="#000" stroke-width="1.11"/>
<line x1="53.6" y1="502.5" x2="58.5" y2="502.5" stroke="#000" stroke-width="1.11"/>
<line x1="53.6" y1="624.5" x2="58.5" y2="624.5" stroke="#000" stroke-width="1.11"/>
<text x="54.30" y="746.00" font-size="14.60" textLength="8.40" lengthAdjust="spacingAndGlyphs">0</text>
<text x="230.30" y="746.00" font-size="14.60" textLength="25.40" lengthAdjust="spacingAndGlyphs">200</text>
<text x="417.30" y="746.00" font-size="14.60" textLength="24.40" lengthAdjust="spacingAndGlyphs">400</text>
<text x="602.30" y="746.00" font-size="14.60" textLength="25.40" lengthAdjust="spacingAndGlyphs">600</text>
<text x="788.30" y="746.00" font-size="14.60" textLength="25.40" lengthAdjust="spacingAndGlyphs">800</text>
<text x="972.30" y="746.00" font-size="14.60" textLength="32.40" lengthAdjust="spacingAndGlyphs">1000</text>
<text x="10.30" y="629.00" font-size="14.60" textLength="36.40" lengthAdjust="spacingAndGlyphs">&#8722;200</text>
<text x="40.30" y="507.00" font-size="14.60" textLength="8.40" lengthAdjust="spacingAndGlyphs">0</text>
<text x="22.30" y="385.00" font-size="14.60" textLength="25.40" lengthAdjust="spacingAndGlyphs">200</text>
<text x="22.30" y="263.00" font-size="14.60" textLength="24.40" lengthAdjust="spacingAndGlyphs">400</text>
<text x="22.30" y="142.00" font-size="14.60" textLength="25.40" lengthAdjust="spacingAndGlyphs">600</text>
<text x="457.30" y="24.00" font-size="17.50" textLength="130.40" lengthAdjust="spacingAndGlyphs">20 Sample runs</text>
<rect x="65.44" y="39.44" width="341.75" height="87.94" rx="2.78" ry="2.78" fill="#fff" fill-opacity="0.8" stroke="#ccc" stroke-opacity="0.8" stroke-width="1.39"/>
<line x1="71" y1="51.3" x2="98.8" y2="51.3" stroke="#008000" stroke-width="2.78" stroke-linecap="square"/>
<line x1="71" y1="72.25" x2="98.8" y2="72.25" stroke="#ff0000" stroke-width="2.78" stroke-linecap="square"/>
<line x1="71" y1="93.2" x2="98.8" y2="93.2" stroke="#000" stroke-width="1.67" stroke-linecap="square"/>
<rect x="71" y="109.3" width="27.8" height="9.7" fill="#008000" fill-opacity="0.2" stroke="#008000" stroke-opacity="0.2" stroke-width="1.39"/>
<text x="109.30" y="56.00" font-size="14.60" textLength="57.40" lengthAdjust="spacingAndGlyphs">Best run</text>
<text x="109.30" y="77.00" font-size="14.60" textLength="66.40" lengthAdjust="spacingAndGlyphs">Worst run</text>
<text x="109.30" y="98.00" font-size="14.60" textLength="36.40" lengthAdjust="spacingAndGlyphs">Mean</text>
<text x="109.30" y="119.00" font-size="14.60" textLength="291.40" lengthAdjust="spacingAndGlyphs">Confidence Intervals (70%, 95% &amp; 99.7%)</text>
</svg></body></html>
